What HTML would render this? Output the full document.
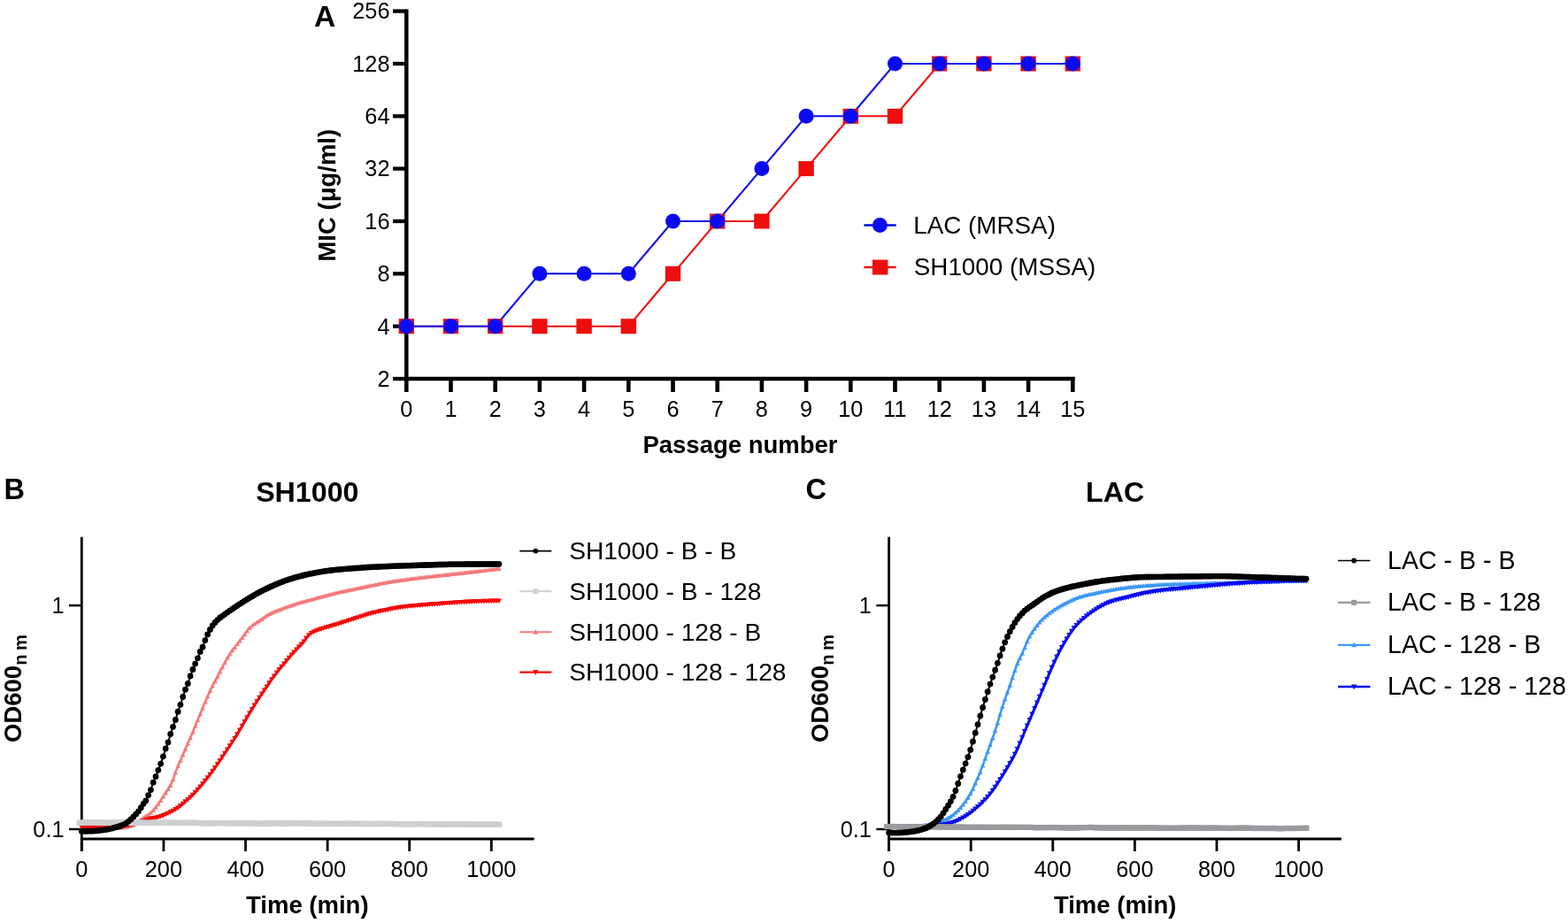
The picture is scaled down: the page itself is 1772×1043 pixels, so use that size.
<!DOCTYPE html>
<html lang="en"><head><meta charset="utf-8"><title>Figure</title>
<style>
html,body{margin:0;padding:0;background:#fff;width:1772px;height:1043px;overflow:hidden}
svg{display:block}
text{font-family:'Liberation Sans', Arial, Helvetica, sans-serif;fill:#000}
.tk{font-size:25.3px}
.lb{font-size:27.5px;font-weight:bold}
.lb .sub{font-size:20.2px}
.pl{font-size:32.2px;font-weight:bold}
.lg{font-size:27.5px}
</style></head><body>
<svg width="1772" height="1043" viewBox="0 0 1772 1043">
<rect width="1772" height="1043" fill="#fff"/>
<g>
<path d="M459.3 10.5 V428 H1214.8" fill="none" stroke="#000" stroke-width="4.5" stroke-linejoin="miter"/>
<line x1="444" y1="428" x2="459.3" y2="428" stroke="#000" stroke-width="4.3"/>
<text x="440.5" y="436.8" text-anchor="end" class="tk">2</text>
<line x1="444" y1="368.7" x2="459.3" y2="368.7" stroke="#000" stroke-width="4.3"/>
<text x="440.5" y="377.5" text-anchor="end" class="tk">4</text>
<line x1="444" y1="309.3" x2="459.3" y2="309.3" stroke="#000" stroke-width="4.3"/>
<text x="440.5" y="318.1" text-anchor="end" class="tk">8</text>
<line x1="444" y1="250" x2="459.3" y2="250" stroke="#000" stroke-width="4.3"/>
<text x="440.5" y="258.8" text-anchor="end" class="tk">16</text>
<line x1="444" y1="190.6" x2="459.3" y2="190.6" stroke="#000" stroke-width="4.3"/>
<text x="440.5" y="199.4" text-anchor="end" class="tk">32</text>
<line x1="444" y1="131.3" x2="459.3" y2="131.3" stroke="#000" stroke-width="4.3"/>
<text x="440.5" y="140.1" text-anchor="end" class="tk">64</text>
<line x1="444" y1="72" x2="459.3" y2="72" stroke="#000" stroke-width="4.3"/>
<text x="440.5" y="80.8" text-anchor="end" class="tk">128</text>
<line x1="444" y1="12.6" x2="459.3" y2="12.6" stroke="#000" stroke-width="4.3"/>
<text x="440.5" y="21.4" text-anchor="end" class="tk">256</text>
<line x1="459.3" y1="428" x2="459.3" y2="443" stroke="#000" stroke-width="4.6"/>
<text x="459.3" y="470.6" text-anchor="middle" class="tk">0</text>
<line x1="509.5" y1="428" x2="509.5" y2="443" stroke="#000" stroke-width="4.6"/>
<text x="509.5" y="470.6" text-anchor="middle" class="tk">1</text>
<line x1="559.7" y1="428" x2="559.7" y2="443" stroke="#000" stroke-width="4.6"/>
<text x="559.7" y="470.6" text-anchor="middle" class="tk">2</text>
<line x1="609.9" y1="428" x2="609.9" y2="443" stroke="#000" stroke-width="4.6"/>
<text x="609.9" y="470.6" text-anchor="middle" class="tk">3</text>
<line x1="660.1" y1="428" x2="660.1" y2="443" stroke="#000" stroke-width="4.6"/>
<text x="660.1" y="470.6" text-anchor="middle" class="tk">4</text>
<line x1="710.3" y1="428" x2="710.3" y2="443" stroke="#000" stroke-width="4.6"/>
<text x="710.3" y="470.6" text-anchor="middle" class="tk">5</text>
<line x1="760.5" y1="428" x2="760.5" y2="443" stroke="#000" stroke-width="4.6"/>
<text x="760.5" y="470.6" text-anchor="middle" class="tk">6</text>
<line x1="810.7" y1="428" x2="810.7" y2="443" stroke="#000" stroke-width="4.6"/>
<text x="810.7" y="470.6" text-anchor="middle" class="tk">7</text>
<line x1="860.9" y1="428" x2="860.9" y2="443" stroke="#000" stroke-width="4.6"/>
<text x="860.9" y="470.6" text-anchor="middle" class="tk">8</text>
<line x1="911.1" y1="428" x2="911.1" y2="443" stroke="#000" stroke-width="4.6"/>
<text x="911.1" y="470.6" text-anchor="middle" class="tk">9</text>
<line x1="961.3" y1="428" x2="961.3" y2="443" stroke="#000" stroke-width="4.6"/>
<text x="961.3" y="470.6" text-anchor="middle" class="tk">10</text>
<line x1="1011.5" y1="428" x2="1011.5" y2="443" stroke="#000" stroke-width="4.6"/>
<text x="1011.5" y="470.6" text-anchor="middle" class="tk">11</text>
<line x1="1061.7" y1="428" x2="1061.7" y2="443" stroke="#000" stroke-width="4.6"/>
<text x="1061.7" y="470.6" text-anchor="middle" class="tk">12</text>
<line x1="1111.9" y1="428" x2="1111.9" y2="443" stroke="#000" stroke-width="4.6"/>
<text x="1111.9" y="470.6" text-anchor="middle" class="tk">13</text>
<line x1="1162.1" y1="428" x2="1162.1" y2="443" stroke="#000" stroke-width="4.6"/>
<text x="1162.1" y="470.6" text-anchor="middle" class="tk">14</text>
<line x1="1212.3" y1="428" x2="1212.3" y2="443" stroke="#000" stroke-width="4.6"/>
<text x="1212.3" y="470.6" text-anchor="middle" class="tk">15</text>
<text x="836.5" y="512.3" text-anchor="middle" class="lb">Passage number</text>
<text transform="translate(379.4 220.7) rotate(-90)" text-anchor="middle" class="lb">MIC (&#956;g/ml)</text>
<text x="355" y="30.2" class="pl" style="font-size:33.5px">A</text>
<polyline points="459.3,368.7 509.5,368.7 559.7,368.7 609.9,368.7 660.1,368.7 710.3,368.7 760.5,309.3 810.7,250 860.9,250 911.1,190.6 961.3,131.3 1011.5,131.3 1061.7,72 1111.9,72 1162.1,72 1212.3,72" fill="none" stroke="#f00d0d" stroke-width="2.1"/>
<polyline points="459.3,368.7 509.5,368.7 559.7,368.7 609.9,309.3 660.1,309.3 710.3,309.3 760.5,250 810.7,250 860.9,190.6 911.1,131.3 961.3,131.3 1011.5,72 1061.7,72 1111.9,72 1162.1,72 1212.3,72" fill="none" stroke="#0a0af2" stroke-width="2.1"/>
<rect x="450.6" y="360.2" width="17.4" height="17" fill="#f00d0d"/>
<rect x="500.8" y="360.2" width="17.4" height="17" fill="#f00d0d"/>
<rect x="551" y="360.2" width="17.4" height="17" fill="#f00d0d"/>
<rect x="601.2" y="360.2" width="17.4" height="17" fill="#f00d0d"/>
<rect x="651.4" y="360.2" width="17.4" height="17" fill="#f00d0d"/>
<rect x="701.6" y="360.2" width="17.4" height="17" fill="#f00d0d"/>
<rect x="751.8" y="300.8" width="17.4" height="17" fill="#f00d0d"/>
<rect x="802" y="241.5" width="17.4" height="17" fill="#f00d0d"/>
<rect x="852.2" y="241.5" width="17.4" height="17" fill="#f00d0d"/>
<rect x="902.4" y="182.1" width="17.4" height="17" fill="#f00d0d"/>
<rect x="952.6" y="122.8" width="17.4" height="17" fill="#f00d0d"/>
<rect x="1002.8" y="122.8" width="17.4" height="17" fill="#f00d0d"/>
<rect x="1053" y="63.5" width="17.4" height="17" fill="#f00d0d"/>
<rect x="1103.2" y="63.5" width="17.4" height="17" fill="#f00d0d"/>
<rect x="1153.4" y="63.5" width="17.4" height="17" fill="#f00d0d"/>
<rect x="1203.6" y="63.5" width="17.4" height="17" fill="#f00d0d"/>
<circle cx="459.3" cy="368.7" r="8.5" fill="#0a0af2"/>
<circle cx="509.5" cy="368.7" r="8.5" fill="#0a0af2"/>
<circle cx="559.7" cy="368.7" r="8.5" fill="#0a0af2"/>
<circle cx="609.9" cy="309.3" r="8.5" fill="#0a0af2"/>
<circle cx="660.1" cy="309.3" r="8.5" fill="#0a0af2"/>
<circle cx="710.3" cy="309.3" r="8.5" fill="#0a0af2"/>
<circle cx="760.5" cy="250" r="8.5" fill="#0a0af2"/>
<circle cx="810.7" cy="250" r="8.5" fill="#0a0af2"/>
<circle cx="860.9" cy="190.6" r="8.5" fill="#0a0af2"/>
<circle cx="911.1" cy="131.3" r="8.5" fill="#0a0af2"/>
<circle cx="961.3" cy="131.3" r="8.5" fill="#0a0af2"/>
<circle cx="1011.5" cy="72" r="8.5" fill="#0a0af2"/>
<circle cx="1061.7" cy="72" r="8.5" fill="#0a0af2"/>
<circle cx="1111.9" cy="72" r="8.5" fill="#0a0af2"/>
<circle cx="1162.1" cy="72" r="8.5" fill="#0a0af2"/>
<circle cx="1212.3" cy="72" r="8.5" fill="#0a0af2"/>
<line x1="976.4" y1="254.5" x2="1012.7" y2="254.5" stroke="#0a0af2" stroke-width="2.4"/>
<circle cx="994.4" cy="254.5" r="8.5" fill="#0a0af2"/>
<text x="1032.3" y="264" class="lg" style="font-size:27.8px">LAC (MRSA)</text>
<line x1="976.4" y1="302" x2="1012.7" y2="302" stroke="#f00d0d" stroke-width="2.4"/>
<rect x="985.9" y="293.5" width="17.5" height="17" fill="#f00d0d"/>
<text x="1032.8" y="311.2" class="lg" style="font-size:27.8px">SH1000 (MSSA)</text>
</g>
<g>
<path d="M92.3 606.8 V962" fill="none" stroke="#000" stroke-width="2.8"/>
<line x1="90.9" y1="948" x2="603.6" y2="948" stroke="#000" stroke-width="2.8"/>
<line x1="78" y1="684.2" x2="92.3" y2="684.2" stroke="#000" stroke-width="2.5"/>
<text x="72.5" y="692.8" text-anchor="end" class="tk">1</text>
<line x1="78" y1="937" x2="92.3" y2="937" stroke="#000" stroke-width="2.5"/>
<text x="72.5" y="945.6" text-anchor="end" class="tk">0.1</text>
<line x1="92.3" y1="948" x2="92.3" y2="962" stroke="#000" stroke-width="2.8"/>
<text x="92.3" y="990.5" text-anchor="middle" class="tk">0</text>
<line x1="184.9" y1="948" x2="184.9" y2="962" stroke="#000" stroke-width="2.8"/>
<text x="184.9" y="990.5" text-anchor="middle" class="tk">200</text>
<line x1="277.5" y1="948" x2="277.5" y2="962" stroke="#000" stroke-width="2.8"/>
<text x="277.5" y="990.5" text-anchor="middle" class="tk">400</text>
<line x1="370.1" y1="948" x2="370.1" y2="962" stroke="#000" stroke-width="2.8"/>
<text x="370.1" y="990.5" text-anchor="middle" class="tk">600</text>
<line x1="462.7" y1="948" x2="462.7" y2="962" stroke="#000" stroke-width="2.8"/>
<text x="462.7" y="990.5" text-anchor="middle" class="tk">800</text>
<line x1="555.3" y1="948" x2="555.3" y2="962" stroke="#000" stroke-width="2.8"/>
<text x="555.3" y="990.5" text-anchor="middle" class="tk">1000</text>
<text x="347.3" y="1032" text-anchor="middle" class="lb">Time (min)</text>
<text x="347.3" y="567" text-anchor="middle" class="pl">SH1000</text>
<text x="4.5" y="563.8" class="pl" style="font-size:32.5px">B</text>
<text transform="translate(23.6 839.0) rotate(-90)" class="lb">OD600<tspan class="sub" dy="6.0">n</tspan><tspan class="sub" dx="4.5">m</tspan></text>
<polyline points="92.3,935.6 95.1,935.7 97.9,935.7 100.7,935.8 103.5,935.9 106.3,935.9 109,936 111.8,936 114.6,936 117.4,936 120.2,936 123,936 125.8,935.9 128.6,935.8 131.4,935.6 134.2,935.5 136.9,935.2 139.7,934.9 142.5,934.5 145.3,933.9 148.1,933 150.9,931.9 153.7,930.6 156.5,928.7 159.3,926.5 162.1,924.3 164.8,922.4 167.6,920.6 170.4,918.6 173.2,915.8 176,912.2 178.8,908.5 181.6,904.6 184.4,900 187.2,895.9 190,891.8 192.7,887.5 195.5,881.1 198.3,872.7 201.1,865.8 203.9,859.5 206.7,853.1 209.5,846.5 212.3,840.1 215.1,833.8 217.9,827.3 220.6,820.6 223.4,813.8 226.2,807.1 229,800.2 231.8,793.5 234.6,787 237.4,780.7 240.2,775.1 243,769.9 245.8,764.5 248.5,759.1 251.3,753.9 254.1,748.9 256.9,743.6 259.7,739 262.5,735.1 265.3,731.5 268.1,727.8 270.9,724.3 273.7,720.7 276.4,717 279.2,713 282,709.6 284.8,707.1 287.6,705 290.4,703.2 293.2,701.4 296,699.6 298.8,697.6 301.6,695.6 304.3,694 307.1,692.6 309.9,691.4 312.7,690.2 315.5,689.2 318.3,688.1 321.1,687.1 323.9,686.1 326.7,685.1 329.5,684.1 332.2,683.2 335,682.3 337.8,681.4 340.6,680.5 343.4,679.7 346.2,679 349,678.2 351.8,677.5 354.6,676.8 357.4,676 360.1,675.3 362.9,674.5 365.7,673.8 368.5,673 371.3,672.3 374.1,671.5 376.9,670.8 379.7,670.1 382.5,669.5 385.3,668.8 388,668.3 390.8,667.7 393.6,667.1 396.4,666.5 399.2,666 402,665.4 404.8,664.8 407.6,664.2 410.4,663.6 413.2,663 415.9,662.4 418.7,661.9 421.5,661.3 424.3,660.7 427.1,660.1 429.9,659.6 432.7,659 435.5,658.5 438.3,658 441.1,657.5 443.8,657 446.6,656.6 449.4,656.2 452.2,655.8 455,655.4 457.8,655.1 460.6,654.7 463.4,654.3 466.2,653.9 469,653.6 471.7,653.2 474.5,652.9 477.3,652.5 480.1,652.2 482.9,651.9 485.7,651.5 488.5,651.2 491.3,650.9 494.1,650.6 496.9,650.3 499.6,650 502.4,649.7 505.2,649.4 508,649.1 510.8,648.8 513.6,648.5 516.4,648.2 519.2,647.9 522,647.6 524.8,647.2 527.5,646.9 530.3,646.6 533.1,646.3 535.9,646 538.7,645.7 541.5,645.3 544.3,645 547.1,644.7 549.9,644.3 552.7,644 555.4,643.6 558.2,643.3 561,643 563.8,642.8" fill="none" stroke="#f47a7a" stroke-width="2.6" stroke-linejoin="round"/>
<g fill="#f47a7a">
<path d="M92.3 932.8L95.1 937.8H89.5z"/>
<path d="M95.1 932.9L97.9 937.9H92.3z"/>
<path d="M97.9 932.9L100.7 938H95.1z"/>
<path d="M100.7 933L103.5 938.1H97.9z"/>
<path d="M103.5 933.1L106.3 938.1H100.7z"/>
<path d="M106.3 933.1L109.1 938.2H103.5z"/>
<path d="M109 933.2L111.8 938.2H106.2z"/>
<path d="M111.8 933.2L114.6 938.2H109z"/>
<path d="M114.6 933.2L117.4 938.2H111.8z"/>
<path d="M117.4 933.2L120.2 938.2H114.6z"/>
<path d="M120.2 933.2L123 938.2H117.4z"/>
<path d="M123 933.2L125.8 938.2H120.2z"/>
<path d="M125.8 933.1L128.6 938.1H123z"/>
<path d="M128.6 933L131.4 938H125.8z"/>
<path d="M131.4 932.8L134.2 937.9H128.6z"/>
<path d="M134.2 932.7L137 937.7H131.4z"/>
<path d="M136.9 932.4L139.7 937.5H134.1z"/>
<path d="M139.7 932.1L142.5 937.2H136.9z"/>
<path d="M142.5 931.7L145.3 936.7H139.7z"/>
<path d="M145.3 931.1L148.1 936.1H142.5z"/>
<path d="M148.1 930.2L150.9 935.2H145.3z"/>
<path d="M150.9 929.1L153.7 934.2H148.1z"/>
<path d="M153.7 927.8L156.5 932.8H150.9z"/>
<path d="M156.5 925.9L159.3 931H153.7z"/>
<path d="M159.3 923.7L162.1 928.8H156.5z"/>
<path d="M162.1 921.5L164.9 926.5H159.3z"/>
<path d="M164.8 919.6L167.6 924.6H162z"/>
<path d="M167.6 917.8L170.4 922.9H164.8z"/>
<path d="M170.4 915.8L173.2 920.8H167.6z"/>
<path d="M173.2 913L176 918H170.4z"/>
<path d="M176 909.4L178.8 914.4H173.2z"/>
<path d="M178.8 905.7L181.6 910.8H176z"/>
<path d="M181.6 901.8L184.4 906.9H178.8z"/>
<path d="M184.4 897.2L187.2 902.3H181.6z"/>
<path d="M187.2 893.1L190 898.2H184.4z"/>
<path d="M190 889L192.8 894.1H187.2z"/>
<path d="M192.7 884.7L195.5 889.8H189.9z"/>
<path d="M195.5 878.3L198.3 883.3H192.7z"/>
<path d="M198.3 869.9L201.1 875H195.5z"/>
<path d="M201.1 863L203.9 868H198.3z"/>
<path d="M203.9 856.7L206.7 861.8H201.1z"/>
<path d="M206.7 850.3L209.5 855.3H203.9z"/>
<path d="M209.5 843.7L212.3 848.8H206.7z"/>
<path d="M212.3 837.3L215.1 842.4H209.5z"/>
<path d="M215.1 831L217.9 836.1H212.3z"/>
<path d="M217.9 824.5L220.7 829.6H215.1z"/>
<path d="M220.6 817.8L223.4 822.8H217.8z"/>
<path d="M223.4 811L226.2 816H220.6z"/>
<path d="M226.2 804.3L229 809.3H223.4z"/>
<path d="M229 797.4L231.8 802.5H226.2z"/>
<path d="M231.8 790.7L234.6 795.7H229z"/>
<path d="M234.6 784.2L237.4 789.2H231.8z"/>
<path d="M237.4 777.9L240.2 782.9H234.6z"/>
<path d="M240.2 772.3L243 777.4H237.4z"/>
<path d="M243 767.1L245.8 772.1H240.2z"/>
<path d="M245.8 761.7L248.6 766.7H243z"/>
<path d="M248.5 756.3L251.3 761.4H245.7z"/>
<path d="M251.3 751.1L254.1 756.2H248.5z"/>
<path d="M254.1 746.1L256.9 751.1H251.3z"/>
<path d="M256.9 740.8L259.7 745.8H254.1z"/>
<path d="M259.7 736.2L262.5 741.2H256.9z"/>
<path d="M262.5 732.3L265.3 737.3H259.7z"/>
<path d="M265.3 728.7L268.1 733.7H262.5z"/>
<path d="M268.1 725L270.9 730.1H265.3z"/>
<path d="M270.9 721.5L273.7 726.5H268.1z"/>
<path d="M273.7 717.9L276.5 723H270.9z"/>
<path d="M276.4 714.2L279.2 719.2H273.6z"/>
<path d="M279.2 710.2L282 715.2H276.4z"/>
<path d="M282 706.8L284.8 711.9H279.2z"/>
<path d="M284.8 704.3L287.6 709.4H282z"/>
<path d="M287.6 702.2L290.4 707.3H284.8z"/>
<path d="M290.4 700.4L293.2 705.4H287.6z"/>
<path d="M293.2 698.6L296 703.7H290.4z"/>
<path d="M296 696.8L298.8 701.9H293.2z"/>
<path d="M298.8 694.8L301.6 699.8H296z"/>
<path d="M301.6 692.8L304.4 697.8H298.8z"/>
<path d="M304.3 691.2L307.1 696.2H301.5z"/>
<path d="M307.1 689.8L309.9 694.8H304.3z"/>
<path d="M309.9 688.6L312.7 693.6H307.1z"/>
<path d="M312.7 687.4L315.5 692.5H309.9z"/>
<path d="M315.5 686.4L318.3 691.4H312.7z"/>
<path d="M318.3 685.3L321.1 690.4H315.5z"/>
<path d="M321.1 684.3L323.9 689.3H318.3z"/>
<path d="M323.9 683.3L326.7 688.3H321.1z"/>
<path d="M326.7 682.3L329.5 687.3H323.9z"/>
<path d="M329.5 681.3L332.3 686.4H326.7z"/>
<path d="M332.2 680.4L335 685.4H329.4z"/>
<path d="M335 679.5L337.8 684.5H332.2z"/>
<path d="M337.8 678.6L340.6 683.6H335z"/>
<path d="M340.6 677.7L343.4 682.8H337.8z"/>
<path d="M343.4 676.9L346.2 682H340.6z"/>
<path d="M346.2 676.2L349 681.2H343.4z"/>
<path d="M349 675.4L351.8 680.5H346.2z"/>
<path d="M351.8 674.7L354.6 679.7H349z"/>
<path d="M354.6 674L357.4 679H351.8z"/>
<path d="M357.4 673.2L360.2 678.3H354.6z"/>
<path d="M360.1 672.5L362.9 677.5H357.3z"/>
<path d="M362.9 671.7L365.7 676.8H360.1z"/>
<path d="M365.7 671L368.5 676H362.9z"/>
<path d="M368.5 670.2L371.3 675.2H365.7z"/>
<path d="M371.3 669.5L374.1 674.5H368.5z"/>
<path d="M374.1 668.7L376.9 673.8H371.3z"/>
<path d="M376.9 668L379.7 673H374.1z"/>
<path d="M379.7 667.3L382.5 672.3H376.9z"/>
<path d="M382.5 666.7L385.3 671.7H379.7z"/>
<path d="M385.3 666L388.1 671.1H382.5z"/>
<path d="M388 665.5L390.8 670.5H385.2z"/>
<path d="M390.8 664.9L393.6 669.9H388z"/>
<path d="M393.6 664.3L396.4 669.3H390.8z"/>
<path d="M396.4 663.7L399.2 668.8H393.6z"/>
<path d="M399.2 663.2L402 668.2H396.4z"/>
<path d="M402 662.6L404.8 667.6H399.2z"/>
<path d="M404.8 662L407.6 667H402z"/>
<path d="M407.6 661.4L410.4 666.5H404.8z"/>
<path d="M410.4 660.8L413.2 665.9H407.6z"/>
<path d="M413.2 660.2L416 665.3H410.4z"/>
<path d="M415.9 659.6L418.7 664.7H413.1z"/>
<path d="M418.7 659.1L421.5 664.1H415.9z"/>
<path d="M421.5 658.5L424.3 663.5H418.7z"/>
<path d="M424.3 657.9L427.1 663H421.5z"/>
<path d="M427.1 657.3L429.9 662.4H424.3z"/>
<path d="M429.9 656.8L432.7 661.8H427.1z"/>
<path d="M432.7 656.2L435.5 661.3H429.9z"/>
<path d="M435.5 655.7L438.3 660.7H432.7z"/>
<path d="M438.3 655.2L441.1 660.2H435.5z"/>
<path d="M441.1 654.7L443.9 659.7H438.3z"/>
<path d="M443.8 654.2L446.6 659.3H441z"/>
<path d="M446.6 653.8L449.4 658.9H443.8z"/>
<path d="M449.4 653.4L452.2 658.4H446.6z"/>
<path d="M452.2 653L455 658.1H449.4z"/>
<path d="M455 652.6L457.8 657.7H452.2z"/>
<path d="M457.8 652.3L460.6 657.3H455z"/>
<path d="M460.6 651.9L463.4 656.9H457.8z"/>
<path d="M463.4 651.5L466.2 656.6H460.6z"/>
<path d="M466.2 651.1L469 656.2H463.4z"/>
<path d="M469 650.8L471.8 655.8H466.2z"/>
<path d="M471.7 650.4L474.5 655.5H468.9z"/>
<path d="M474.5 650.1L477.3 655.1H471.7z"/>
<path d="M477.3 649.7L480.1 654.8H474.5z"/>
<path d="M480.1 649.4L482.9 654.4H477.3z"/>
<path d="M482.9 649.1L485.7 654.1H480.1z"/>
<path d="M485.7 648.7L488.5 653.8H482.9z"/>
<path d="M488.5 648.4L491.3 653.5H485.7z"/>
<path d="M491.3 648.1L494.1 653.2H488.5z"/>
<path d="M494.1 647.8L496.9 652.9H491.3z"/>
<path d="M496.9 647.5L499.7 652.6H494.1z"/>
<path d="M499.6 647.2L502.4 652.3H496.8z"/>
<path d="M502.4 646.9L505.2 652H499.6z"/>
<path d="M505.2 646.6L508 651.7H502.4z"/>
<path d="M508 646.3L510.8 651.4H505.2z"/>
<path d="M510.8 646L513.6 651H508z"/>
<path d="M513.6 645.7L516.4 650.7H510.8z"/>
<path d="M516.4 645.4L519.2 650.4H513.6z"/>
<path d="M519.2 645.1L522 650.1H516.4z"/>
<path d="M522 644.8L524.8 649.8H519.2z"/>
<path d="M524.8 644.4L527.6 649.5H522z"/>
<path d="M527.5 644.1L530.3 649.2H524.7z"/>
<path d="M530.3 643.8L533.1 648.9H527.5z"/>
<path d="M533.1 643.5L535.9 648.5H530.3z"/>
<path d="M535.9 643.2L538.7 648.2H533.1z"/>
<path d="M538.7 642.9L541.5 647.9H535.9z"/>
<path d="M541.5 642.5L544.3 647.6H538.7z"/>
<path d="M544.3 642.2L547.1 647.2H541.5z"/>
<path d="M547.1 641.9L549.9 646.9H544.3z"/>
<path d="M549.9 641.5L552.7 646.6H547.1z"/>
<path d="M552.7 641.2L555.5 646.2H549.9z"/>
<path d="M555.4 640.8L558.2 645.9H552.6z"/>
<path d="M558.2 640.5L561 645.5H555.4z"/>
<path d="M561 640.2L563.8 645.2H558.2z"/>
<path d="M563.8 640L566.6 645H561z"/>
</g>
<polyline points="92.3,934.7 95.1,934.7 97.9,934.7 100.7,934.7 103.5,934.7 106.3,934.8 109,934.8 111.8,934.8 114.6,934.9 117.4,935.1 120.2,935.2 123,935.2 125.8,935 128.6,934.8 131.4,934.5 134.2,934.1 136.9,933.8 139.7,933.4 142.5,932.9 145.3,932.4 148.1,931.9 150.9,931.3 153.7,930.5 156.5,929.7 159.3,928.7 162.1,927.8 164.8,926.7 167.6,925.7 170.4,925 173.2,924.5 176,924.1 178.8,923.5 181.6,922.6 184.4,921.5 187.2,920.2 190,918.9 192.7,917.6 195.5,916.2 198.3,914.6 201.1,912.8 203.9,910.6 206.7,908.2 209.5,905.8 212.3,903.4 215.1,900.8 217.9,898.2 220.6,895.3 223.4,892.2 226.2,889 229,885.7 231.8,882.3 234.6,878.8 237.4,875.1 240.2,871.4 243,867.5 245.8,863.5 248.5,859.4 251.3,855.3 254.1,851.2 256.9,847 259.7,842.8 262.5,838.5 265.3,834.2 268.1,829.8 270.9,825 273.7,820.2 276.4,815.4 279.2,810.6 282,806 284.8,801.5 287.6,797 290.4,792.5 293.2,788.2 296,784 298.8,779.9 301.6,775.9 304.3,771.8 307.1,767.7 309.9,763.9 312.7,760.2 315.5,756.6 318.3,753.2 321.1,750 323.9,746.6 326.7,743.2 329.5,739.9 332.2,736.9 335,733.9 337.8,731 340.6,728.1 343.4,725 346.2,721.1 349,717.6 351.8,715.4 354.6,713.9 357.4,712.7 360.1,711.7 362.9,710.8 365.7,709.9 368.5,709 371.3,708.2 374.1,707.4 376.9,706.6 379.7,705.8 382.5,704.9 385.3,704 388,703.1 390.8,702.2 393.6,701.3 396.4,700.4 399.2,699.5 402,698.5 404.8,697.6 407.6,696.7 410.4,695.9 413.2,695 415.9,694.1 418.7,693.3 421.5,692.5 424.3,691.8 427.1,691.2 429.9,690.6 432.7,690 435.5,689.5 438.3,688.9 441.1,688.3 443.8,687.7 446.6,687.2 449.4,686.7 452.2,686.3 455,685.9 457.8,685.6 460.6,685.2 463.4,685 466.2,684.7 469,684.5 471.7,684.2 474.5,684 477.3,683.7 480.1,683.5 482.9,683.3 485.7,683 488.5,682.8 491.3,682.6 494.1,682.4 496.9,682.2 499.6,682 502.4,681.7 505.2,681.5 508,681.3 510.8,681.2 513.6,681 516.4,680.8 519.2,680.6 522,680.5 524.8,680.3 527.5,680.1 530.3,680 533.1,679.8 535.9,679.7 538.7,679.6 541.5,679.5 544.3,679.4 547.1,679.3 549.9,679.2 552.7,679.2 555.4,679.1 558.2,679.1 561,679 563.8,679" fill="none" stroke="#f20a0a" stroke-width="3" stroke-linejoin="round"/>
<g fill="#f20a0a">
<path d="M92.3 937.8L95.4 932.2H89.2z"/>
<path d="M95.1 937.8L98.2 932.2H92z"/>
<path d="M97.9 937.8L101 932.2H94.8z"/>
<path d="M100.7 937.8L103.8 932.2H97.6z"/>
<path d="M103.5 937.8L106.6 932.3H100.4z"/>
<path d="M106.3 937.9L109.4 932.3H103.2z"/>
<path d="M109 937.9L112.1 932.3H105.9z"/>
<path d="M111.8 937.9L114.9 932.4H108.7z"/>
<path d="M114.6 938L117.7 932.5H111.5z"/>
<path d="M117.4 938.2L120.5 932.6H114.3z"/>
<path d="M120.2 938.3L123.3 932.7H117.1z"/>
<path d="M123 938.3L126.1 932.7H119.9z"/>
<path d="M125.8 938.1L128.9 932.6H122.7z"/>
<path d="M128.6 937.9L131.7 932.3H125.5z"/>
<path d="M131.4 937.6L134.5 932H128.3z"/>
<path d="M134.2 937.2L137.3 931.6H131.1z"/>
<path d="M136.9 936.9L140 931.3H133.8z"/>
<path d="M139.7 936.5L142.8 930.9H136.6z"/>
<path d="M142.5 936L145.6 930.5H139.4z"/>
<path d="M145.3 935.5L148.4 930H142.2z"/>
<path d="M148.1 935L151.2 929.4H145z"/>
<path d="M150.9 934.4L154 928.8H147.8z"/>
<path d="M153.7 933.6L156.8 928.1H150.6z"/>
<path d="M156.5 932.8L159.6 927.2H153.4z"/>
<path d="M159.3 931.8L162.4 926.3H156.2z"/>
<path d="M162.1 930.9L165.2 925.3H159z"/>
<path d="M164.8 929.8L167.9 924.2H161.7z"/>
<path d="M167.6 928.8L170.7 923.2H164.5z"/>
<path d="M170.4 928.1L173.5 922.5H167.3z"/>
<path d="M173.2 927.6L176.3 922.1H170.1z"/>
<path d="M176 927.2L179.1 921.6H172.9z"/>
<path d="M178.8 926.6L181.9 921H175.7z"/>
<path d="M181.6 925.7L184.7 920.1H178.5z"/>
<path d="M184.4 924.6L187.5 919H181.3z"/>
<path d="M187.2 923.3L190.3 917.7H184.1z"/>
<path d="M190 922L193.1 916.5H186.9z"/>
<path d="M192.7 920.7L195.8 915.1H189.6z"/>
<path d="M195.5 919.3L198.6 913.7H192.4z"/>
<path d="M198.3 917.7L201.4 912.1H195.2z"/>
<path d="M201.1 915.9L204.2 910.3H198z"/>
<path d="M203.9 913.7L207 908.1H200.8z"/>
<path d="M206.7 911.3L209.8 905.7H203.6z"/>
<path d="M209.5 908.9L212.6 903.3H206.4z"/>
<path d="M212.3 906.5L215.4 900.9H209.2z"/>
<path d="M215.1 903.9L218.2 898.4H212z"/>
<path d="M217.9 901.3L221 895.7H214.8z"/>
<path d="M220.6 898.4L223.7 892.8H217.5z"/>
<path d="M223.4 895.3L226.5 889.7H220.3z"/>
<path d="M226.2 892.1L229.3 886.5H223.1z"/>
<path d="M229 888.8L232.1 883.3H225.9z"/>
<path d="M231.8 885.4L234.9 879.8H228.7z"/>
<path d="M234.6 881.9L237.7 876.3H231.5z"/>
<path d="M237.4 878.2L240.5 872.7H234.3z"/>
<path d="M240.2 874.5L243.3 868.9H237.1z"/>
<path d="M243 870.6L246.1 865H239.9z"/>
<path d="M245.8 866.6L248.9 861H242.7z"/>
<path d="M248.5 862.5L251.6 856.9H245.4z"/>
<path d="M251.3 858.4L254.4 852.8H248.2z"/>
<path d="M254.1 854.3L257.2 848.7H251z"/>
<path d="M256.9 850.1L260 844.5H253.8z"/>
<path d="M259.7 845.9L262.8 840.3H256.6z"/>
<path d="M262.5 841.6L265.6 836.1H259.4z"/>
<path d="M265.3 837.3L268.4 831.7H262.2z"/>
<path d="M268.1 832.9L271.2 827.3H265z"/>
<path d="M270.9 828.1L274 822.6H267.8z"/>
<path d="M273.7 823.3L276.8 817.7H270.6z"/>
<path d="M276.4 818.5L279.5 812.9H273.3z"/>
<path d="M279.2 813.7L282.3 808.2H276.1z"/>
<path d="M282 809.1L285.1 803.5H278.9z"/>
<path d="M284.8 804.6L287.9 799H281.7z"/>
<path d="M287.6 800.1L290.7 794.5H284.5z"/>
<path d="M290.4 795.6L293.5 790.1H287.3z"/>
<path d="M293.2 791.3L296.3 785.7H290.1z"/>
<path d="M296 787.1L299.1 781.5H292.9z"/>
<path d="M298.8 783L301.9 777.4H295.7z"/>
<path d="M301.6 779L304.7 773.4H298.5z"/>
<path d="M304.3 774.9L307.4 769.3H301.2z"/>
<path d="M307.1 770.8L310.2 765.3H304z"/>
<path d="M309.9 767L313 761.4H306.8z"/>
<path d="M312.7 763.3L315.8 757.7H309.6z"/>
<path d="M315.5 759.7L318.6 754.1H312.4z"/>
<path d="M318.3 756.3L321.4 750.8H315.2z"/>
<path d="M321.1 753.1L324.2 747.5H318z"/>
<path d="M323.9 749.7L327 744.1H320.8z"/>
<path d="M326.7 746.3L329.8 740.8H323.6z"/>
<path d="M329.5 743L332.6 737.5H326.4z"/>
<path d="M332.2 740L335.3 734.4H329.1z"/>
<path d="M335 737L338.1 731.4H331.9z"/>
<path d="M337.8 734.1L340.9 728.5H334.7z"/>
<path d="M340.6 731.2L343.7 725.6H337.5z"/>
<path d="M343.4 728.1L346.5 722.5H340.3z"/>
<path d="M346.2 724.2L349.3 718.6H343.1z"/>
<path d="M349 720.7L352.1 715.2H345.9z"/>
<path d="M351.8 718.5L354.9 712.9H348.7z"/>
<path d="M354.6 717L357.7 711.4H351.5z"/>
<path d="M357.4 715.8L360.5 710.2H354.3z"/>
<path d="M360.1 714.8L363.2 709.2H357z"/>
<path d="M362.9 713.9L366 708.3H359.8z"/>
<path d="M365.7 713L368.8 707.5H362.6z"/>
<path d="M368.5 712.1L371.6 706.6H365.4z"/>
<path d="M371.3 711.3L374.4 705.7H368.2z"/>
<path d="M374.1 710.5L377.2 704.9H371z"/>
<path d="M376.9 709.7L380 704.1H373.8z"/>
<path d="M379.7 708.9L382.8 703.3H376.6z"/>
<path d="M382.5 708L385.6 702.4H379.4z"/>
<path d="M385.3 707.1L388.4 701.5H382.2z"/>
<path d="M388 706.2L391.1 700.6H384.9z"/>
<path d="M390.8 705.3L393.9 699.7H387.7z"/>
<path d="M393.6 704.4L396.7 698.8H390.5z"/>
<path d="M396.4 703.5L399.5 697.9H393.3z"/>
<path d="M399.2 702.6L402.3 697H396.1z"/>
<path d="M402 701.6L405.1 696.1H398.9z"/>
<path d="M404.8 700.7L407.9 695.2H401.7z"/>
<path d="M407.6 699.8L410.7 694.3H404.5z"/>
<path d="M410.4 699L413.5 693.4H407.3z"/>
<path d="M413.2 698.1L416.3 692.5H410.1z"/>
<path d="M415.9 697.2L419 691.6H412.8z"/>
<path d="M418.7 696.4L421.8 690.8H415.6z"/>
<path d="M421.5 695.6L424.6 690H418.4z"/>
<path d="M424.3 694.9L427.4 689.4H421.2z"/>
<path d="M427.1 694.3L430.2 688.7H424z"/>
<path d="M429.9 693.7L433 688.1H426.8z"/>
<path d="M432.7 693.1L435.8 687.6H429.6z"/>
<path d="M435.5 692.6L438.6 687H432.4z"/>
<path d="M438.3 692L441.4 686.4H435.2z"/>
<path d="M441.1 691.4L444.2 685.8H438z"/>
<path d="M443.8 690.8L446.9 685.2H440.7z"/>
<path d="M446.6 690.3L449.7 684.7H443.5z"/>
<path d="M449.4 689.8L452.5 684.2H446.3z"/>
<path d="M452.2 689.4L455.3 683.8H449.1z"/>
<path d="M455 689L458.1 683.4H451.9z"/>
<path d="M457.8 688.7L460.9 683.1H454.7z"/>
<path d="M460.6 688.3L463.7 682.8H457.5z"/>
<path d="M463.4 688.1L466.5 682.5H460.3z"/>
<path d="M466.2 687.8L469.3 682.2H463.1z"/>
<path d="M469 687.6L472.1 682H465.9z"/>
<path d="M471.7 687.3L474.8 681.7H468.6z"/>
<path d="M474.5 687.1L477.6 681.5H471.4z"/>
<path d="M477.3 686.8L480.4 681.3H474.2z"/>
<path d="M480.1 686.6L483.2 681H477z"/>
<path d="M482.9 686.4L486 680.8H479.8z"/>
<path d="M485.7 686.1L488.8 680.6H482.6z"/>
<path d="M488.5 685.9L491.6 680.3H485.4z"/>
<path d="M491.3 685.7L494.4 680.1H488.2z"/>
<path d="M494.1 685.5L497.2 679.9H491z"/>
<path d="M496.9 685.3L500 679.7H493.8z"/>
<path d="M499.6 685.1L502.7 679.5H496.5z"/>
<path d="M502.4 684.8L505.5 679.3H499.3z"/>
<path d="M505.2 684.6L508.3 679.1H502.1z"/>
<path d="M508 684.4L511.1 678.9H504.9z"/>
<path d="M510.8 684.3L513.9 678.7H507.7z"/>
<path d="M513.6 684.1L516.7 678.5H510.5z"/>
<path d="M516.4 683.9L519.5 678.3H513.3z"/>
<path d="M519.2 683.7L522.3 678.1H516.1z"/>
<path d="M522 683.6L525.1 678H518.9z"/>
<path d="M524.8 683.4L527.9 677.8H521.7z"/>
<path d="M527.5 683.2L530.6 677.6H524.4z"/>
<path d="M530.3 683.1L533.4 677.5H527.2z"/>
<path d="M533.1 682.9L536.2 677.3H530z"/>
<path d="M535.9 682.8L539 677.2H532.8z"/>
<path d="M538.7 682.7L541.8 677.1H535.6z"/>
<path d="M541.5 682.6L544.6 677H538.4z"/>
<path d="M544.3 682.5L547.4 676.9H541.2z"/>
<path d="M547.1 682.4L550.2 676.8H544z"/>
<path d="M549.9 682.3L553 676.8H546.8z"/>
<path d="M552.7 682.3L555.8 676.7H549.6z"/>
<path d="M555.4 682.2L558.5 676.6H552.3z"/>
<path d="M558.2 682.2L561.3 676.6H555.1z"/>
<path d="M561 682.1L564.1 676.5H557.9z"/>
<path d="M563.8 682.1L566.9 676.5H560.7z"/>
</g>
<polyline points="89.8,929.8 92.6,929.7 95.4,929.6 98.2,929.5 101,929.4 103.8,929.4 106.5,929.4 109.3,929.4 112.1,929.5 114.9,929.6 117.7,929.7 120.5,929.7 123.3,929.7 126.1,929.7 128.9,929.7 131.7,929.7 134.4,929.7 137.2,929.5 140,929.5 142.8,929.6 145.6,929.7 148.4,929.7 151.2,929.6 154,929.7 156.8,929.8 159.6,929.8 162.3,929.7 165.1,929.8 167.9,929.9 170.7,929.9 173.5,929.9 176.3,929.8 179.1,929.8 181.9,929.7 184.7,929.7 187.5,929.6 190.2,929.7 193,929.7 195.8,929.8 198.6,929.9 201.4,929.8 204.2,929.9 207,929.8 209.8,929.8 212.6,929.9 215.4,929.7 218.1,929.8 220.9,929.9 223.7,930 226.5,930.1 229.3,930.2 232.1,930.3 234.9,930.4 237.7,930.4 240.5,930.3 243.3,930.2 246,930.1 248.8,930.1 251.6,930.1 254.4,930.2 257.2,930.2 260,930.3 262.8,930.3 265.6,930.5 268.4,930.4 271.2,930.3 273.9,930.5 276.7,930.3 279.5,930.4 282.3,930.4 285.1,930.5 287.9,930.6 290.7,930.6 293.5,930.6 296.3,930.6 299.1,930.5 301.8,930.6 304.6,930.5 307.4,930.5 310.2,930.5 313,930.4 315.8,930.4 318.6,930.6 321.4,930.5 324.2,930.6 327,930.4 329.7,930.3 332.5,930.4 335.3,930.3 338.1,930.3 340.9,930.3 343.7,930.3 346.5,930.5 349.3,930.6 352.1,930.6 354.9,930.6 357.6,930.8 360.4,930.8 363.2,930.8 366,930.8 368.8,930.8 371.6,930.9 374.4,930.9 377.2,930.8 380,930.7 382.8,930.9 385.5,930.9 388.3,930.8 391.1,930.8 393.9,930.8 396.7,930.8 399.5,930.9 402.3,930.9 405.1,930.9 407.9,931 410.7,930.9 413.4,931 416.2,931 419,931.1 421.8,931 424.6,930.9 427.4,930.9 430.2,931 433,930.9 435.8,931 438.6,930.9 441.3,930.9 444.1,931 446.9,931.1 449.7,931.2 452.5,931.2 455.3,931.2 458.1,931.2 460.9,931.2 463.7,931.3 466.5,931.2 469.2,931.1 472,931.1 474.8,931 477.6,931.1 480.4,931.2 483.2,931.1 486,931.2 488.8,931.3 491.6,931.4 494.4,931.4 497.1,931.4 499.9,931.4 502.7,931.5 505.5,931.4 508.3,931.4 511.1,931.4 513.9,931.4 516.7,931.3 519.5,931.4 522.3,931.3 525,931.5 527.8,931.4 530.6,931.4 533.4,931.4 536.2,931.4 539,931.5 541.8,931.6 544.6,931.5 547.4,931.6 550.2,931.5 552.9,931.6 555.7,931.7 558.5,931.6 561.3,931.7 564.1,931.8" fill="none" stroke="#cfcfcf" stroke-width="5.6" stroke-linejoin="round"/>
<g fill="#cfcfcf">
<rect x="86.6" y="926.6" width="6.4" height="6.4"/>
<rect x="89.4" y="926.5" width="6.4" height="6.4"/>
<rect x="92.2" y="926.4" width="6.4" height="6.4"/>
<rect x="95" y="926.3" width="6.4" height="6.4"/>
<rect x="97.8" y="926.2" width="6.4" height="6.4"/>
<rect x="100.6" y="926.2" width="6.4" height="6.4"/>
<rect x="103.3" y="926.2" width="6.4" height="6.4"/>
<rect x="106.1" y="926.2" width="6.4" height="6.4"/>
<rect x="108.9" y="926.3" width="6.4" height="6.4"/>
<rect x="111.7" y="926.4" width="6.4" height="6.4"/>
<rect x="114.5" y="926.5" width="6.4" height="6.4"/>
<rect x="117.3" y="926.5" width="6.4" height="6.4"/>
<rect x="120.1" y="926.5" width="6.4" height="6.4"/>
<rect x="122.9" y="926.5" width="6.4" height="6.4"/>
<rect x="125.7" y="926.5" width="6.4" height="6.4"/>
<rect x="128.5" y="926.5" width="6.4" height="6.4"/>
<rect x="131.2" y="926.5" width="6.4" height="6.4"/>
<rect x="134" y="926.3" width="6.4" height="6.4"/>
<rect x="136.8" y="926.3" width="6.4" height="6.4"/>
<rect x="139.6" y="926.4" width="6.4" height="6.4"/>
<rect x="142.4" y="926.5" width="6.4" height="6.4"/>
<rect x="145.2" y="926.5" width="6.4" height="6.4"/>
<rect x="148" y="926.4" width="6.4" height="6.4"/>
<rect x="150.8" y="926.5" width="6.4" height="6.4"/>
<rect x="153.6" y="926.6" width="6.4" height="6.4"/>
<rect x="156.4" y="926.6" width="6.4" height="6.4"/>
<rect x="159.1" y="926.5" width="6.4" height="6.4"/>
<rect x="161.9" y="926.6" width="6.4" height="6.4"/>
<rect x="164.7" y="926.7" width="6.4" height="6.4"/>
<rect x="167.5" y="926.7" width="6.4" height="6.4"/>
<rect x="170.3" y="926.7" width="6.4" height="6.4"/>
<rect x="173.1" y="926.6" width="6.4" height="6.4"/>
<rect x="175.9" y="926.6" width="6.4" height="6.4"/>
<rect x="178.7" y="926.5" width="6.4" height="6.4"/>
<rect x="181.5" y="926.5" width="6.4" height="6.4"/>
<rect x="184.3" y="926.4" width="6.4" height="6.4"/>
<rect x="187" y="926.5" width="6.4" height="6.4"/>
<rect x="189.8" y="926.5" width="6.4" height="6.4"/>
<rect x="192.6" y="926.6" width="6.4" height="6.4"/>
<rect x="195.4" y="926.7" width="6.4" height="6.4"/>
<rect x="198.2" y="926.6" width="6.4" height="6.4"/>
<rect x="201" y="926.7" width="6.4" height="6.4"/>
<rect x="203.8" y="926.6" width="6.4" height="6.4"/>
<rect x="206.6" y="926.6" width="6.4" height="6.4"/>
<rect x="209.4" y="926.7" width="6.4" height="6.4"/>
<rect x="212.2" y="926.5" width="6.4" height="6.4"/>
<rect x="214.9" y="926.6" width="6.4" height="6.4"/>
<rect x="217.7" y="926.7" width="6.4" height="6.4"/>
<rect x="220.5" y="926.8" width="6.4" height="6.4"/>
<rect x="223.3" y="926.9" width="6.4" height="6.4"/>
<rect x="226.1" y="927" width="6.4" height="6.4"/>
<rect x="228.9" y="927.1" width="6.4" height="6.4"/>
<rect x="231.7" y="927.2" width="6.4" height="6.4"/>
<rect x="234.5" y="927.2" width="6.4" height="6.4"/>
<rect x="237.3" y="927.1" width="6.4" height="6.4"/>
<rect x="240.1" y="927" width="6.4" height="6.4"/>
<rect x="242.8" y="926.9" width="6.4" height="6.4"/>
<rect x="245.6" y="926.9" width="6.4" height="6.4"/>
<rect x="248.4" y="926.9" width="6.4" height="6.4"/>
<rect x="251.2" y="927" width="6.4" height="6.4"/>
<rect x="254" y="927" width="6.4" height="6.4"/>
<rect x="256.8" y="927.1" width="6.4" height="6.4"/>
<rect x="259.6" y="927.1" width="6.4" height="6.4"/>
<rect x="262.4" y="927.3" width="6.4" height="6.4"/>
<rect x="265.2" y="927.2" width="6.4" height="6.4"/>
<rect x="268" y="927.1" width="6.4" height="6.4"/>
<rect x="270.7" y="927.3" width="6.4" height="6.4"/>
<rect x="273.5" y="927.1" width="6.4" height="6.4"/>
<rect x="276.3" y="927.2" width="6.4" height="6.4"/>
<rect x="279.1" y="927.2" width="6.4" height="6.4"/>
<rect x="281.9" y="927.3" width="6.4" height="6.4"/>
<rect x="284.7" y="927.4" width="6.4" height="6.4"/>
<rect x="287.5" y="927.4" width="6.4" height="6.4"/>
<rect x="290.3" y="927.4" width="6.4" height="6.4"/>
<rect x="293.1" y="927.4" width="6.4" height="6.4"/>
<rect x="295.9" y="927.3" width="6.4" height="6.4"/>
<rect x="298.6" y="927.4" width="6.4" height="6.4"/>
<rect x="301.4" y="927.3" width="6.4" height="6.4"/>
<rect x="304.2" y="927.3" width="6.4" height="6.4"/>
<rect x="307" y="927.3" width="6.4" height="6.4"/>
<rect x="309.8" y="927.2" width="6.4" height="6.4"/>
<rect x="312.6" y="927.2" width="6.4" height="6.4"/>
<rect x="315.4" y="927.4" width="6.4" height="6.4"/>
<rect x="318.2" y="927.3" width="6.4" height="6.4"/>
<rect x="321" y="927.4" width="6.4" height="6.4"/>
<rect x="323.8" y="927.2" width="6.4" height="6.4"/>
<rect x="326.5" y="927.1" width="6.4" height="6.4"/>
<rect x="329.3" y="927.2" width="6.4" height="6.4"/>
<rect x="332.1" y="927.1" width="6.4" height="6.4"/>
<rect x="334.9" y="927.1" width="6.4" height="6.4"/>
<rect x="337.7" y="927.1" width="6.4" height="6.4"/>
<rect x="340.5" y="927.1" width="6.4" height="6.4"/>
<rect x="343.3" y="927.3" width="6.4" height="6.4"/>
<rect x="346.1" y="927.4" width="6.4" height="6.4"/>
<rect x="348.9" y="927.4" width="6.4" height="6.4"/>
<rect x="351.7" y="927.4" width="6.4" height="6.4"/>
<rect x="354.4" y="927.6" width="6.4" height="6.4"/>
<rect x="357.2" y="927.6" width="6.4" height="6.4"/>
<rect x="360" y="927.6" width="6.4" height="6.4"/>
<rect x="362.8" y="927.6" width="6.4" height="6.4"/>
<rect x="365.6" y="927.6" width="6.4" height="6.4"/>
<rect x="368.4" y="927.7" width="6.4" height="6.4"/>
<rect x="371.2" y="927.7" width="6.4" height="6.4"/>
<rect x="374" y="927.6" width="6.4" height="6.4"/>
<rect x="376.8" y="927.5" width="6.4" height="6.4"/>
<rect x="379.6" y="927.7" width="6.4" height="6.4"/>
<rect x="382.3" y="927.7" width="6.4" height="6.4"/>
<rect x="385.1" y="927.6" width="6.4" height="6.4"/>
<rect x="387.9" y="927.6" width="6.4" height="6.4"/>
<rect x="390.7" y="927.6" width="6.4" height="6.4"/>
<rect x="393.5" y="927.6" width="6.4" height="6.4"/>
<rect x="396.3" y="927.7" width="6.4" height="6.4"/>
<rect x="399.1" y="927.7" width="6.4" height="6.4"/>
<rect x="401.9" y="927.7" width="6.4" height="6.4"/>
<rect x="404.7" y="927.8" width="6.4" height="6.4"/>
<rect x="407.5" y="927.7" width="6.4" height="6.4"/>
<rect x="410.2" y="927.8" width="6.4" height="6.4"/>
<rect x="413" y="927.8" width="6.4" height="6.4"/>
<rect x="415.8" y="927.9" width="6.4" height="6.4"/>
<rect x="418.6" y="927.8" width="6.4" height="6.4"/>
<rect x="421.4" y="927.7" width="6.4" height="6.4"/>
<rect x="424.2" y="927.7" width="6.4" height="6.4"/>
<rect x="427" y="927.8" width="6.4" height="6.4"/>
<rect x="429.8" y="927.7" width="6.4" height="6.4"/>
<rect x="432.6" y="927.8" width="6.4" height="6.4"/>
<rect x="435.4" y="927.7" width="6.4" height="6.4"/>
<rect x="438.1" y="927.7" width="6.4" height="6.4"/>
<rect x="440.9" y="927.8" width="6.4" height="6.4"/>
<rect x="443.7" y="927.9" width="6.4" height="6.4"/>
<rect x="446.5" y="928" width="6.4" height="6.4"/>
<rect x="449.3" y="928" width="6.4" height="6.4"/>
<rect x="452.1" y="928" width="6.4" height="6.4"/>
<rect x="454.9" y="928" width="6.4" height="6.4"/>
<rect x="457.7" y="928" width="6.4" height="6.4"/>
<rect x="460.5" y="928.1" width="6.4" height="6.4"/>
<rect x="463.3" y="928" width="6.4" height="6.4"/>
<rect x="466" y="927.9" width="6.4" height="6.4"/>
<rect x="468.8" y="927.9" width="6.4" height="6.4"/>
<rect x="471.6" y="927.8" width="6.4" height="6.4"/>
<rect x="474.4" y="927.9" width="6.4" height="6.4"/>
<rect x="477.2" y="928" width="6.4" height="6.4"/>
<rect x="480" y="927.9" width="6.4" height="6.4"/>
<rect x="482.8" y="928" width="6.4" height="6.4"/>
<rect x="485.6" y="928.1" width="6.4" height="6.4"/>
<rect x="488.4" y="928.2" width="6.4" height="6.4"/>
<rect x="491.2" y="928.2" width="6.4" height="6.4"/>
<rect x="493.9" y="928.2" width="6.4" height="6.4"/>
<rect x="496.7" y="928.2" width="6.4" height="6.4"/>
<rect x="499.5" y="928.3" width="6.4" height="6.4"/>
<rect x="502.3" y="928.2" width="6.4" height="6.4"/>
<rect x="505.1" y="928.2" width="6.4" height="6.4"/>
<rect x="507.9" y="928.2" width="6.4" height="6.4"/>
<rect x="510.7" y="928.2" width="6.4" height="6.4"/>
<rect x="513.5" y="928.1" width="6.4" height="6.4"/>
<rect x="516.3" y="928.2" width="6.4" height="6.4"/>
<rect x="519.1" y="928.1" width="6.4" height="6.4"/>
<rect x="521.8" y="928.3" width="6.4" height="6.4"/>
<rect x="524.6" y="928.2" width="6.4" height="6.4"/>
<rect x="527.4" y="928.2" width="6.4" height="6.4"/>
<rect x="530.2" y="928.2" width="6.4" height="6.4"/>
<rect x="533" y="928.2" width="6.4" height="6.4"/>
<rect x="535.8" y="928.3" width="6.4" height="6.4"/>
<rect x="538.6" y="928.4" width="6.4" height="6.4"/>
<rect x="541.4" y="928.3" width="6.4" height="6.4"/>
<rect x="544.2" y="928.4" width="6.4" height="6.4"/>
<rect x="547" y="928.3" width="6.4" height="6.4"/>
<rect x="549.7" y="928.4" width="6.4" height="6.4"/>
<rect x="552.5" y="928.5" width="6.4" height="6.4"/>
<rect x="555.3" y="928.4" width="6.4" height="6.4"/>
<rect x="558.1" y="928.5" width="6.4" height="6.4"/>
<rect x="560.9" y="928.6" width="6.4" height="6.4"/>
</g>
<polyline points="92.3,939.3 95.1,939.3 97.9,939.3 100.7,939.2 103.5,939.2 106.3,939 109,938.8 111.8,938.5 114.6,938.2 117.4,937.8 120.2,937.4 123,936.8 125.8,936.2 128.6,935.4 131.4,934.7 134.2,933.9 136.9,933 139.7,931.8 142.5,930.3 145.3,928.1 148.1,925.7 150.9,922.9 153.7,919.9 156.5,916.8 159.3,912.7 162.1,908.3 164.8,904.8 167.6,898.6 170.4,892.6 173.2,884.2 176,877.4 178.8,870.3 181.6,863.1 184.4,854.8 187.2,845.9 190,838.8 192.7,829.5 195.5,821.3 198.3,813.4 201.1,804.2 203.9,796.3 206.7,787.5 209.5,779.2 212.3,772.5 215.1,763.9 217.9,756.5 220.6,750.1 223.4,743.8 226.2,736.5 229,731.2 231.8,723.6 234.6,716.9 237.4,711.5 240.2,706.9 243,703.4 245.8,700.6 248.5,698.2 251.3,696.1 254.1,694.1 256.9,692.1 259.7,690.1 262.5,688.2 265.3,686.3 268.1,684.5 270.9,682.6 273.7,680.8 276.4,679.1 279.2,677.3 282,675.6 284.8,674 287.6,672.3 290.4,670.7 293.2,669.2 296,667.7 298.8,666.3 301.6,665 304.3,663.7 307.1,662.4 309.9,661.2 312.7,660 315.5,658.8 318.3,657.7 321.1,656.6 323.9,655.7 326.7,654.7 329.5,653.8 332.2,653 335,652.2 337.8,651.4 340.6,650.7 343.4,650 346.2,649.4 349,648.7 351.8,648.2 354.6,647.6 357.4,647.1 360.1,646.6 362.9,646.1 365.7,645.6 368.5,645.2 371.3,644.8 374.1,644.5 376.9,644.1 379.7,643.8 382.5,643.6 385.3,643.3 388,643.1 390.8,642.8 393.6,642.6 396.4,642.4 399.2,642.2 402,642 404.8,641.8 407.6,641.6 410.4,641.4 413.2,641.2 415.9,641 418.7,640.9 421.5,640.7 424.3,640.6 427.1,640.5 429.9,640.3 432.7,640.2 435.5,640.1 438.3,640 441.1,639.8 443.8,639.7 446.6,639.6 449.4,639.5 452.2,639.4 455,639.3 457.8,639.2 460.6,639.2 463.4,639.1 466.2,639 469,638.9 471.7,638.8 474.5,638.7 477.3,638.6 480.1,638.5 482.9,638.5 485.7,638.4 488.5,638.3 491.3,638.2 494.1,638.1 496.9,638 499.6,637.9 502.4,637.9 505.2,637.8 508,637.7 510.8,637.7 513.6,637.7 516.4,637.6 519.2,637.6 522,637.6 524.8,637.6 527.5,637.5 530.3,637.5 533.1,637.5 535.9,637.5 538.7,637.5 541.5,637.5 544.3,637.4 547.1,637.4 549.9,637.4 552.7,637.4 555.4,637.4 558.2,637.4 561,637.4 563.8,637.4" fill="none" stroke="#000" stroke-width="2" stroke-linejoin="round"/>
<g fill="#000">
<circle cx="92.3" cy="939.3" r="3.4"/>
<circle cx="95.1" cy="939.3" r="3.4"/>
<circle cx="97.9" cy="939.3" r="3.4"/>
<circle cx="100.7" cy="939.2" r="3.4"/>
<circle cx="103.5" cy="939.2" r="3.4"/>
<circle cx="106.3" cy="939" r="3.4"/>
<circle cx="109" cy="938.8" r="3.4"/>
<circle cx="111.8" cy="938.5" r="3.4"/>
<circle cx="114.6" cy="938.2" r="3.4"/>
<circle cx="117.4" cy="937.8" r="3.4"/>
<circle cx="120.2" cy="937.4" r="3.4"/>
<circle cx="123" cy="936.8" r="3.4"/>
<circle cx="125.8" cy="936.2" r="3.4"/>
<circle cx="128.6" cy="935.4" r="3.4"/>
<circle cx="131.4" cy="934.7" r="3.4"/>
<circle cx="134.2" cy="933.9" r="3.4"/>
<circle cx="136.9" cy="933" r="3.4"/>
<circle cx="139.7" cy="931.8" r="3.4"/>
<circle cx="142.5" cy="930.3" r="3.4"/>
<circle cx="145.3" cy="928.1" r="3.4"/>
<circle cx="148.1" cy="925.7" r="3.4"/>
<circle cx="150.9" cy="922.9" r="3.4"/>
<circle cx="153.7" cy="919.9" r="3.4"/>
<circle cx="156.5" cy="916.8" r="3.4"/>
<circle cx="159.3" cy="912.7" r="3.4"/>
<circle cx="162.1" cy="908.3" r="3.4"/>
<circle cx="164.8" cy="904.8" r="3.4"/>
<circle cx="167.6" cy="898.6" r="3.4"/>
<circle cx="170.4" cy="892.6" r="3.4"/>
<circle cx="173.2" cy="884.2" r="3.4"/>
<circle cx="176" cy="877.4" r="3.4"/>
<circle cx="178.8" cy="870.3" r="3.4"/>
<circle cx="181.6" cy="863.1" r="3.4"/>
<circle cx="184.4" cy="854.8" r="3.4"/>
<circle cx="187.2" cy="845.9" r="3.4"/>
<circle cx="190" cy="838.8" r="3.4"/>
<circle cx="192.7" cy="829.5" r="3.4"/>
<circle cx="195.5" cy="821.3" r="3.4"/>
<circle cx="198.3" cy="813.4" r="3.4"/>
<circle cx="201.1" cy="804.2" r="3.4"/>
<circle cx="203.9" cy="796.3" r="3.4"/>
<circle cx="206.7" cy="787.5" r="3.4"/>
<circle cx="209.5" cy="779.2" r="3.4"/>
<circle cx="212.3" cy="772.5" r="3.4"/>
<circle cx="215.1" cy="763.9" r="3.4"/>
<circle cx="217.9" cy="756.5" r="3.4"/>
<circle cx="220.6" cy="750.1" r="3.4"/>
<circle cx="223.4" cy="743.8" r="3.4"/>
<circle cx="226.2" cy="736.5" r="3.4"/>
<circle cx="229" cy="731.2" r="3.4"/>
<circle cx="231.8" cy="723.6" r="3.4"/>
<circle cx="234.6" cy="716.9" r="3.4"/>
<circle cx="237.4" cy="711.5" r="3.4"/>
<circle cx="240.2" cy="706.9" r="3.4"/>
<circle cx="243" cy="703.4" r="3.4"/>
<circle cx="245.8" cy="700.6" r="3.4"/>
<circle cx="248.5" cy="698.2" r="3.4"/>
<circle cx="251.3" cy="696.1" r="3.4"/>
<circle cx="254.1" cy="694.1" r="3.4"/>
<circle cx="256.9" cy="692.1" r="3.4"/>
<circle cx="259.7" cy="690.1" r="3.4"/>
<circle cx="262.5" cy="688.2" r="3.4"/>
<circle cx="265.3" cy="686.3" r="3.4"/>
<circle cx="268.1" cy="684.5" r="3.4"/>
<circle cx="270.9" cy="682.6" r="3.4"/>
<circle cx="273.7" cy="680.8" r="3.4"/>
<circle cx="276.4" cy="679.1" r="3.4"/>
<circle cx="279.2" cy="677.3" r="3.4"/>
<circle cx="282" cy="675.6" r="3.4"/>
<circle cx="284.8" cy="674" r="3.4"/>
<circle cx="287.6" cy="672.3" r="3.4"/>
<circle cx="290.4" cy="670.7" r="3.4"/>
<circle cx="293.2" cy="669.2" r="3.4"/>
<circle cx="296" cy="667.7" r="3.4"/>
<circle cx="298.8" cy="666.3" r="3.4"/>
<circle cx="301.6" cy="665" r="3.4"/>
<circle cx="304.3" cy="663.7" r="3.4"/>
<circle cx="307.1" cy="662.4" r="3.4"/>
<circle cx="309.9" cy="661.2" r="3.4"/>
<circle cx="312.7" cy="660" r="3.4"/>
<circle cx="315.5" cy="658.8" r="3.4"/>
<circle cx="318.3" cy="657.7" r="3.4"/>
<circle cx="321.1" cy="656.6" r="3.4"/>
<circle cx="323.9" cy="655.7" r="3.4"/>
<circle cx="326.7" cy="654.7" r="3.4"/>
<circle cx="329.5" cy="653.8" r="3.4"/>
<circle cx="332.2" cy="653" r="3.4"/>
<circle cx="335" cy="652.2" r="3.4"/>
<circle cx="337.8" cy="651.4" r="3.4"/>
<circle cx="340.6" cy="650.7" r="3.4"/>
<circle cx="343.4" cy="650" r="3.4"/>
<circle cx="346.2" cy="649.4" r="3.4"/>
<circle cx="349" cy="648.7" r="3.4"/>
<circle cx="351.8" cy="648.2" r="3.4"/>
<circle cx="354.6" cy="647.6" r="3.4"/>
<circle cx="357.4" cy="647.1" r="3.4"/>
<circle cx="360.1" cy="646.6" r="3.4"/>
<circle cx="362.9" cy="646.1" r="3.4"/>
<circle cx="365.7" cy="645.6" r="3.4"/>
<circle cx="368.5" cy="645.2" r="3.4"/>
<circle cx="371.3" cy="644.8" r="3.4"/>
<circle cx="374.1" cy="644.5" r="3.4"/>
<circle cx="376.9" cy="644.1" r="3.4"/>
<circle cx="379.7" cy="643.8" r="3.4"/>
<circle cx="382.5" cy="643.6" r="3.4"/>
<circle cx="385.3" cy="643.3" r="3.4"/>
<circle cx="388" cy="643.1" r="3.4"/>
<circle cx="390.8" cy="642.8" r="3.4"/>
<circle cx="393.6" cy="642.6" r="3.4"/>
<circle cx="396.4" cy="642.4" r="3.4"/>
<circle cx="399.2" cy="642.2" r="3.4"/>
<circle cx="402" cy="642" r="3.4"/>
<circle cx="404.8" cy="641.8" r="3.4"/>
<circle cx="407.6" cy="641.6" r="3.4"/>
<circle cx="410.4" cy="641.4" r="3.4"/>
<circle cx="413.2" cy="641.2" r="3.4"/>
<circle cx="415.9" cy="641" r="3.4"/>
<circle cx="418.7" cy="640.9" r="3.4"/>
<circle cx="421.5" cy="640.7" r="3.4"/>
<circle cx="424.3" cy="640.6" r="3.4"/>
<circle cx="427.1" cy="640.5" r="3.4"/>
<circle cx="429.9" cy="640.3" r="3.4"/>
<circle cx="432.7" cy="640.2" r="3.4"/>
<circle cx="435.5" cy="640.1" r="3.4"/>
<circle cx="438.3" cy="640" r="3.4"/>
<circle cx="441.1" cy="639.8" r="3.4"/>
<circle cx="443.8" cy="639.7" r="3.4"/>
<circle cx="446.6" cy="639.6" r="3.4"/>
<circle cx="449.4" cy="639.5" r="3.4"/>
<circle cx="452.2" cy="639.4" r="3.4"/>
<circle cx="455" cy="639.3" r="3.4"/>
<circle cx="457.8" cy="639.2" r="3.4"/>
<circle cx="460.6" cy="639.2" r="3.4"/>
<circle cx="463.4" cy="639.1" r="3.4"/>
<circle cx="466.2" cy="639" r="3.4"/>
<circle cx="469" cy="638.9" r="3.4"/>
<circle cx="471.7" cy="638.8" r="3.4"/>
<circle cx="474.5" cy="638.7" r="3.4"/>
<circle cx="477.3" cy="638.6" r="3.4"/>
<circle cx="480.1" cy="638.5" r="3.4"/>
<circle cx="482.9" cy="638.5" r="3.4"/>
<circle cx="485.7" cy="638.4" r="3.4"/>
<circle cx="488.5" cy="638.3" r="3.4"/>
<circle cx="491.3" cy="638.2" r="3.4"/>
<circle cx="494.1" cy="638.1" r="3.4"/>
<circle cx="496.9" cy="638" r="3.4"/>
<circle cx="499.6" cy="637.9" r="3.4"/>
<circle cx="502.4" cy="637.9" r="3.4"/>
<circle cx="505.2" cy="637.8" r="3.4"/>
<circle cx="508" cy="637.7" r="3.4"/>
<circle cx="510.8" cy="637.7" r="3.4"/>
<circle cx="513.6" cy="637.7" r="3.4"/>
<circle cx="516.4" cy="637.6" r="3.4"/>
<circle cx="519.2" cy="637.6" r="3.4"/>
<circle cx="522" cy="637.6" r="3.4"/>
<circle cx="524.8" cy="637.6" r="3.4"/>
<circle cx="527.5" cy="637.5" r="3.4"/>
<circle cx="530.3" cy="637.5" r="3.4"/>
<circle cx="533.1" cy="637.5" r="3.4"/>
<circle cx="535.9" cy="637.5" r="3.4"/>
<circle cx="538.7" cy="637.5" r="3.4"/>
<circle cx="541.5" cy="637.5" r="3.4"/>
<circle cx="544.3" cy="637.4" r="3.4"/>
<circle cx="547.1" cy="637.4" r="3.4"/>
<circle cx="549.9" cy="637.4" r="3.4"/>
<circle cx="552.7" cy="637.4" r="3.4"/>
<circle cx="555.4" cy="637.4" r="3.4"/>
<circle cx="558.2" cy="637.4" r="3.4"/>
<circle cx="561" cy="637.4" r="3.4"/>
<circle cx="563.8" cy="637.4" r="3.4"/>
</g>
</g>
<g>
<path d="M1004.6 606.8 V962" fill="none" stroke="#000" stroke-width="2.8"/>
<line x1="1003.2" y1="948" x2="1515.9" y2="948" stroke="#000" stroke-width="2.8"/>
<line x1="990.3" y1="684.2" x2="1004.6" y2="684.2" stroke="#000" stroke-width="2.5"/>
<text x="984.8" y="692.8" text-anchor="end" class="tk">1</text>
<line x1="990.3" y1="937" x2="1004.6" y2="937" stroke="#000" stroke-width="2.5"/>
<text x="984.8" y="945.6" text-anchor="end" class="tk">0.1</text>
<line x1="1004.6" y1="948" x2="1004.6" y2="962" stroke="#000" stroke-width="2.8"/>
<text x="1004.6" y="990.5" text-anchor="middle" class="tk">0</text>
<line x1="1097.2" y1="948" x2="1097.2" y2="962" stroke="#000" stroke-width="2.8"/>
<text x="1097.2" y="990.5" text-anchor="middle" class="tk">200</text>
<line x1="1189.8" y1="948" x2="1189.8" y2="962" stroke="#000" stroke-width="2.8"/>
<text x="1189.8" y="990.5" text-anchor="middle" class="tk">400</text>
<line x1="1282.4" y1="948" x2="1282.4" y2="962" stroke="#000" stroke-width="2.8"/>
<text x="1282.4" y="990.5" text-anchor="middle" class="tk">600</text>
<line x1="1375" y1="948" x2="1375" y2="962" stroke="#000" stroke-width="2.8"/>
<text x="1375" y="990.5" text-anchor="middle" class="tk">800</text>
<line x1="1467.6" y1="948" x2="1467.6" y2="962" stroke="#000" stroke-width="2.8"/>
<text x="1467.6" y="990.5" text-anchor="middle" class="tk">1000</text>
<text x="1260.2" y="1032" text-anchor="middle" class="lb">Time (min)</text>
<text x="1260.2" y="567" text-anchor="middle" class="pl">LAC</text>
<text x="910.5" y="563.8" class="pl" style="font-size:32.5px">C</text>
<text transform="translate(935.9 839.0) rotate(-90)" class="lb">OD600<tspan class="sub" dy="6.0">n</tspan><tspan class="sub" dx="4.5">m</tspan></text>
<polyline points="1004.6,934.6 1007.4,934.6 1010.2,934.6 1013,934.6 1015.8,934.6 1018.5,934.6 1021.3,934.6 1024.1,934.6 1026.9,934.6 1029.7,934.6 1032.5,934.5 1035.3,934.5 1038.1,934.4 1040.9,934.2 1043.7,934 1046.4,933.8 1049.2,933.4 1052,932.8 1054.8,932 1057.6,930.8 1060.4,929.6 1063.2,928.4 1066,927.1 1068.8,925.9 1071.6,924.4 1074.3,922.7 1077.1,920.7 1079.9,918.4 1082.7,915.7 1085.5,912.7 1088.3,909.4 1091.1,905.6 1093.9,901.5 1096.7,896.9 1099.5,891.4 1102.2,885.3 1105,879 1107.8,872.4 1110.6,865.1 1113.4,857.2 1116.2,849.4 1119,841.8 1121.8,834 1124.6,825.9 1127.4,816.9 1130.1,807.4 1132.9,798.5 1135.7,790.3 1138.5,782.4 1141.3,774.5 1144.1,766.1 1146.9,757.6 1149.7,750 1152.5,743.8 1155.3,738.2 1158,732 1160.8,725 1163.6,719.1 1166.4,714.5 1169.2,710.4 1172,706.7 1174.8,703.2 1177.6,700.2 1180.4,697.6 1183.2,695.2 1185.9,693 1188.7,691 1191.5,689 1194.3,687.2 1197.1,685.6 1199.9,683.9 1202.7,682.4 1205.5,681 1208.3,679.6 1211.1,678.3 1213.8,677 1216.6,675.9 1219.4,674.9 1222.2,674 1225,673.3 1227.8,672.6 1230.6,671.9 1233.4,671.3 1236.2,670.7 1239,670.1 1241.7,669.5 1244.5,668.9 1247.3,668.3 1250.1,667.7 1252.9,667.2 1255.7,666.7 1258.5,666.2 1261.3,665.7 1264.1,665.3 1266.9,664.9 1269.6,664.5 1272.4,664.1 1275.2,663.7 1278,663.4 1280.8,663.1 1283.6,662.8 1286.4,662.6 1289.2,662.3 1292,662.1 1294.8,661.9 1297.5,661.6 1300.3,661.4 1303.1,661.2 1305.9,661 1308.7,660.9 1311.5,660.7 1314.3,660.6 1317.1,660.4 1319.9,660.3 1322.7,660.2 1325.4,660.1 1328.2,660 1331,660 1333.8,659.9 1336.6,659.8 1339.4,659.7 1342.2,659.7 1345,659.6 1347.8,659.5 1350.6,659.4 1353.3,659.4 1356.1,659.3 1358.9,659.2 1361.7,659.1 1364.5,659.1 1367.3,659 1370.1,658.9 1372.9,658.9 1375.7,658.8 1378.5,658.7 1381.2,658.6 1384,658.6 1386.8,658.5 1389.6,658.4 1392.4,658.3 1395.2,658.3 1398,658.2 1400.8,658.1 1403.6,658 1406.4,658 1409.1,657.9 1411.9,657.8 1414.7,657.7 1417.5,657.7 1420.3,657.6 1423.1,657.5 1425.9,657.4 1428.7,657.4 1431.5,657.3 1434.3,657.2 1437,657.1 1439.8,657.1 1442.6,657 1445.4,656.9 1448.2,656.9 1451,656.8 1453.8,656.7 1456.6,656.7 1459.4,656.6 1462.2,656.5 1464.9,656.4 1467.7,656.4 1470.5,656.3 1473.3,656.3 1476.1,656.2" fill="none" stroke="#3d98f5" stroke-width="2.6" stroke-linejoin="round"/>
<g fill="#3d98f5">
<path d="M1004.6 931.8L1007.4 936.8H1001.8z"/>
<path d="M1007.4 931.8L1010.2 936.8H1004.6z"/>
<path d="M1010.2 931.8L1013 936.8H1007.4z"/>
<path d="M1013 931.8L1015.8 936.8H1010.2z"/>
<path d="M1015.8 931.8L1018.6 936.8H1013z"/>
<path d="M1018.5 931.8L1021.3 936.8H1015.7z"/>
<path d="M1021.3 931.8L1024.1 936.8H1018.5z"/>
<path d="M1024.1 931.8L1026.9 936.8H1021.3z"/>
<path d="M1026.9 931.8L1029.7 936.8H1024.1z"/>
<path d="M1029.7 931.8L1032.5 936.8H1026.9z"/>
<path d="M1032.5 931.7L1035.3 936.8H1029.7z"/>
<path d="M1035.3 931.7L1038.1 936.7H1032.5z"/>
<path d="M1038.1 931.6L1040.9 936.6H1035.3z"/>
<path d="M1040.9 931.4L1043.7 936.5H1038.1z"/>
<path d="M1043.7 931.2L1046.5 936.3H1040.9z"/>
<path d="M1046.4 931L1049.2 936H1043.6z"/>
<path d="M1049.2 930.6L1052 935.6H1046.4z"/>
<path d="M1052 930L1054.8 935.1H1049.2z"/>
<path d="M1054.8 929.2L1057.6 934.2H1052z"/>
<path d="M1057.6 928L1060.4 933.1H1054.8z"/>
<path d="M1060.4 926.8L1063.2 931.8H1057.6z"/>
<path d="M1063.2 925.6L1066 930.6H1060.4z"/>
<path d="M1066 924.3L1068.8 929.4H1063.2z"/>
<path d="M1068.8 923.1L1071.6 928.1H1066z"/>
<path d="M1071.6 921.6L1074.4 926.7H1068.8z"/>
<path d="M1074.3 919.9L1077.1 925H1071.5z"/>
<path d="M1077.1 917.9L1079.9 922.9H1074.3z"/>
<path d="M1079.9 915.6L1082.7 920.6H1077.1z"/>
<path d="M1082.7 912.9L1085.5 917.9H1079.9z"/>
<path d="M1085.5 909.9L1088.3 915H1082.7z"/>
<path d="M1088.3 906.6L1091.1 911.6H1085.5z"/>
<path d="M1091.1 902.8L1093.9 907.8H1088.3z"/>
<path d="M1093.9 898.7L1096.7 903.7H1091.1z"/>
<path d="M1096.7 894.1L1099.5 899.1H1093.9z"/>
<path d="M1099.5 888.6L1102.3 893.7H1096.7z"/>
<path d="M1102.2 882.5L1105 887.6H1099.4z"/>
<path d="M1105 876.2L1107.8 881.2H1102.2z"/>
<path d="M1107.8 869.6L1110.6 874.7H1105z"/>
<path d="M1110.6 862.3L1113.4 867.3H1107.8z"/>
<path d="M1113.4 854.4L1116.2 859.5H1110.6z"/>
<path d="M1116.2 846.6L1119 851.7H1113.4z"/>
<path d="M1119 839L1121.8 844H1116.2z"/>
<path d="M1121.8 831.2L1124.6 836.2H1119z"/>
<path d="M1124.6 823.1L1127.4 828.1H1121.8z"/>
<path d="M1127.4 814.1L1130.2 819.2H1124.6z"/>
<path d="M1130.1 804.6L1132.9 809.7H1127.3z"/>
<path d="M1132.9 795.7L1135.7 800.7H1130.1z"/>
<path d="M1135.7 787.5L1138.5 792.6H1132.9z"/>
<path d="M1138.5 779.6L1141.3 784.6H1135.7z"/>
<path d="M1141.3 771.7L1144.1 776.7H1138.5z"/>
<path d="M1144.1 763.3L1146.9 768.3H1141.3z"/>
<path d="M1146.9 754.8L1149.7 759.9H1144.1z"/>
<path d="M1149.7 747.2L1152.5 752.2H1146.9z"/>
<path d="M1152.5 741L1155.3 746.1H1149.7z"/>
<path d="M1155.3 735.4L1158.1 740.4H1152.5z"/>
<path d="M1158 729.2L1160.8 734.2H1155.2z"/>
<path d="M1160.8 722.2L1163.6 727.2H1158z"/>
<path d="M1163.6 716.3L1166.4 721.3H1160.8z"/>
<path d="M1166.4 711.7L1169.2 716.7H1163.6z"/>
<path d="M1169.2 707.6L1172 712.7H1166.4z"/>
<path d="M1172 703.9L1174.8 708.9H1169.2z"/>
<path d="M1174.8 700.4L1177.6 705.5H1172z"/>
<path d="M1177.6 697.4L1180.4 702.5H1174.8z"/>
<path d="M1180.4 694.8L1183.2 699.8H1177.6z"/>
<path d="M1183.2 692.4L1186 697.4H1180.4z"/>
<path d="M1185.9 690.2L1188.7 695.2H1183.1z"/>
<path d="M1188.7 688.2L1191.5 693.2H1185.9z"/>
<path d="M1191.5 686.2L1194.3 691.3H1188.7z"/>
<path d="M1194.3 684.4L1197.1 689.5H1191.5z"/>
<path d="M1197.1 682.8L1199.9 687.8H1194.3z"/>
<path d="M1199.9 681.1L1202.7 686.2H1197.1z"/>
<path d="M1202.7 679.6L1205.5 684.7H1199.9z"/>
<path d="M1205.5 678.2L1208.3 683.2H1202.7z"/>
<path d="M1208.3 676.8L1211.1 681.8H1205.5z"/>
<path d="M1211.1 675.5L1213.9 680.5H1208.3z"/>
<path d="M1213.8 674.2L1216.6 679.2H1211z"/>
<path d="M1216.6 673.1L1219.4 678.1H1213.8z"/>
<path d="M1219.4 672.1L1222.2 677.1H1216.6z"/>
<path d="M1222.2 671.2L1225 676.3H1219.4z"/>
<path d="M1225 670.5L1227.8 675.5H1222.2z"/>
<path d="M1227.8 669.8L1230.6 674.8H1225z"/>
<path d="M1230.6 669.1L1233.4 674.1H1227.8z"/>
<path d="M1233.4 668.5L1236.2 673.5H1230.6z"/>
<path d="M1236.2 667.9L1239 672.9H1233.4z"/>
<path d="M1239 667.3L1241.8 672.3H1236.2z"/>
<path d="M1241.7 666.7L1244.5 671.7H1238.9z"/>
<path d="M1244.5 666.1L1247.3 671.1H1241.7z"/>
<path d="M1247.3 665.5L1250.1 670.5H1244.5z"/>
<path d="M1250.1 664.9L1252.9 670H1247.3z"/>
<path d="M1252.9 664.4L1255.7 669.4H1250.1z"/>
<path d="M1255.7 663.9L1258.5 668.9H1252.9z"/>
<path d="M1258.5 663.4L1261.3 668.4H1255.7z"/>
<path d="M1261.3 662.9L1264.1 668H1258.5z"/>
<path d="M1264.1 662.5L1266.9 667.6H1261.3z"/>
<path d="M1266.9 662.1L1269.7 667.1H1264.1z"/>
<path d="M1269.6 661.7L1272.4 666.7H1266.8z"/>
<path d="M1272.4 661.3L1275.2 666.3H1269.6z"/>
<path d="M1275.2 660.9L1278 666H1272.4z"/>
<path d="M1278 660.6L1280.8 665.7H1275.2z"/>
<path d="M1280.8 660.3L1283.6 665.4H1278z"/>
<path d="M1283.6 660L1286.4 665.1H1280.8z"/>
<path d="M1286.4 659.8L1289.2 664.8H1283.6z"/>
<path d="M1289.2 659.5L1292 664.6H1286.4z"/>
<path d="M1292 659.3L1294.8 664.3H1289.2z"/>
<path d="M1294.8 659.1L1297.6 664.1H1292z"/>
<path d="M1297.5 658.8L1300.3 663.9H1294.7z"/>
<path d="M1300.3 658.6L1303.1 663.7H1297.5z"/>
<path d="M1303.1 658.4L1305.9 663.5H1300.3z"/>
<path d="M1305.9 658.2L1308.7 663.3H1303.1z"/>
<path d="M1308.7 658.1L1311.5 663.1H1305.9z"/>
<path d="M1311.5 657.9L1314.3 663H1308.7z"/>
<path d="M1314.3 657.8L1317.1 662.8H1311.5z"/>
<path d="M1317.1 657.6L1319.9 662.7H1314.3z"/>
<path d="M1319.9 657.5L1322.7 662.6H1317.1z"/>
<path d="M1322.7 657.4L1325.5 662.5H1319.9z"/>
<path d="M1325.4 657.3L1328.2 662.4H1322.6z"/>
<path d="M1328.2 657.2L1331 662.3H1325.4z"/>
<path d="M1331 657.2L1333.8 662.2H1328.2z"/>
<path d="M1333.8 657.1L1336.6 662.1H1331z"/>
<path d="M1336.6 657L1339.4 662.1H1333.8z"/>
<path d="M1339.4 656.9L1342.2 662H1336.6z"/>
<path d="M1342.2 656.9L1345 661.9H1339.4z"/>
<path d="M1345 656.8L1347.8 661.8H1342.2z"/>
<path d="M1347.8 656.7L1350.6 661.8H1345z"/>
<path d="M1350.6 656.6L1353.4 661.7H1347.8z"/>
<path d="M1353.3 656.6L1356.1 661.6H1350.5z"/>
<path d="M1356.1 656.5L1358.9 661.5H1353.3z"/>
<path d="M1358.9 656.4L1361.7 661.5H1356.1z"/>
<path d="M1361.7 656.3L1364.5 661.4H1358.9z"/>
<path d="M1364.5 656.3L1367.3 661.3H1361.7z"/>
<path d="M1367.3 656.2L1370.1 661.2H1364.5z"/>
<path d="M1370.1 656.1L1372.9 661.2H1367.3z"/>
<path d="M1372.9 656.1L1375.7 661.1H1370.1z"/>
<path d="M1375.7 656L1378.5 661H1372.9z"/>
<path d="M1378.5 655.9L1381.3 660.9H1375.7z"/>
<path d="M1381.2 655.8L1384 660.9H1378.4z"/>
<path d="M1384 655.8L1386.8 660.8H1381.2z"/>
<path d="M1386.8 655.7L1389.6 660.7H1384z"/>
<path d="M1389.6 655.6L1392.4 660.6H1386.8z"/>
<path d="M1392.4 655.5L1395.2 660.6H1389.6z"/>
<path d="M1395.2 655.5L1398 660.5H1392.4z"/>
<path d="M1398 655.4L1400.8 660.4H1395.2z"/>
<path d="M1400.8 655.3L1403.6 660.4H1398z"/>
<path d="M1403.6 655.2L1406.4 660.3H1400.8z"/>
<path d="M1406.4 655.2L1409.2 660.2H1403.6z"/>
<path d="M1409.1 655.1L1411.9 660.1H1406.3z"/>
<path d="M1411.9 655L1414.7 660.1H1409.1z"/>
<path d="M1414.7 654.9L1417.5 660H1411.9z"/>
<path d="M1417.5 654.9L1420.3 659.9H1414.7z"/>
<path d="M1420.3 654.8L1423.1 659.8H1417.5z"/>
<path d="M1423.1 654.7L1425.9 659.8H1420.3z"/>
<path d="M1425.9 654.6L1428.7 659.7H1423.1z"/>
<path d="M1428.7 654.6L1431.5 659.6H1425.9z"/>
<path d="M1431.5 654.5L1434.3 659.5H1428.7z"/>
<path d="M1434.3 654.4L1437.1 659.5H1431.5z"/>
<path d="M1437 654.3L1439.8 659.4H1434.2z"/>
<path d="M1439.8 654.3L1442.6 659.3H1437z"/>
<path d="M1442.6 654.2L1445.4 659.2H1439.8z"/>
<path d="M1445.4 654.1L1448.2 659.2H1442.6z"/>
<path d="M1448.2 654.1L1451 659.1H1445.4z"/>
<path d="M1451 654L1453.8 659H1448.2z"/>
<path d="M1453.8 653.9L1456.6 659H1451z"/>
<path d="M1456.6 653.9L1459.4 658.9H1453.8z"/>
<path d="M1459.4 653.8L1462.2 658.8H1456.6z"/>
<path d="M1462.2 653.7L1465 658.8H1459.4z"/>
<path d="M1464.9 653.6L1467.7 658.7H1462.1z"/>
<path d="M1467.7 653.6L1470.5 658.6H1464.9z"/>
<path d="M1470.5 653.5L1473.3 658.6H1467.7z"/>
<path d="M1473.3 653.5L1476.1 658.5H1470.5z"/>
<path d="M1476.1 653.4L1478.9 658.5H1473.3z"/>
</g>
<polyline points="1004.6,934.6 1007.4,934.6 1010.2,934.5 1013,934.4 1015.8,934.2 1018.5,934.1 1021.3,934 1024.1,933.9 1026.9,933.8 1029.7,933.7 1032.5,933.7 1035.3,933.6 1038.1,933.5 1040.9,933.4 1043.7,933.3 1046.4,933.3 1049.2,933.1 1052,933 1054.8,932.9 1057.6,932.7 1060.4,932.5 1063.2,932.2 1066,931.8 1068.8,931.4 1071.6,930.8 1074.3,930.1 1077.1,929.2 1079.9,928.1 1082.7,926.9 1085.5,925.5 1088.3,924 1091.1,922.3 1093.9,920.4 1096.7,918.4 1099.5,916.2 1102.2,913.9 1105,911.5 1107.8,909 1110.6,906.3 1113.4,903.4 1116.2,900.3 1119,896.9 1121.8,893.3 1124.6,889.3 1127.4,885.1 1130.1,880.8 1132.9,876.4 1135.7,871.9 1138.5,867.3 1141.3,862.5 1144.1,857.5 1146.9,852.2 1149.7,846.4 1152.5,840 1155.3,833.2 1158,826.5 1160.8,820 1163.6,813.5 1166.4,807 1169.2,800.5 1172,793.9 1174.8,787.3 1177.6,780.7 1180.4,774.1 1183.2,767.5 1185.9,760.8 1188.7,754.3 1191.5,748.1 1194.3,742.2 1197.1,736.5 1199.9,731.3 1202.7,726.5 1205.5,721.9 1208.3,717.5 1211.1,713.3 1213.8,709.6 1216.6,706.4 1219.4,703.5 1222.2,700.9 1225,698.5 1227.8,696.1 1230.6,693.9 1233.4,691.9 1236.2,690 1239,688.2 1241.7,686.5 1244.5,684.9 1247.3,683.4 1250.1,682 1252.9,680.8 1255.7,679.8 1258.5,678.9 1261.3,678.1 1264.1,677.4 1266.9,676.7 1269.6,676 1272.4,675.4 1275.2,674.7 1278,673.9 1280.8,673.2 1283.6,672.5 1286.4,671.8 1289.2,671.2 1292,670.5 1294.8,670 1297.5,669.5 1300.3,669 1303.1,668.5 1305.9,668.1 1308.7,667.7 1311.5,667.3 1314.3,667 1317.1,666.6 1319.9,666.3 1322.7,666.1 1325.4,665.8 1328.2,665.6 1331,665.3 1333.8,665.1 1336.6,664.8 1339.4,664.6 1342.2,664.3 1345,664 1347.8,663.7 1350.6,663.5 1353.3,663.2 1356.1,662.9 1358.9,662.6 1361.7,662.4 1364.5,662.1 1367.3,661.8 1370.1,661.6 1372.9,661.3 1375.7,661.1 1378.5,660.8 1381.2,660.6 1384,660.4 1386.8,660.1 1389.6,659.9 1392.4,659.7 1395.2,659.5 1398,659.3 1400.8,659.1 1403.6,658.9 1406.4,658.7 1409.1,658.5 1411.9,658.4 1414.7,658.2 1417.5,658 1420.3,657.9 1423.1,657.7 1425.9,657.6 1428.7,657.5 1431.5,657.3 1434.3,657.2 1437,657.1 1439.8,657 1442.6,656.9 1445.4,656.8 1448.2,656.7 1451,656.6 1453.8,656.5 1456.6,656.5 1459.4,656.4 1462.2,656.3 1464.9,656.2 1467.7,656.2 1470.5,656.1 1473.3,656.1 1476.1,656.1" fill="none" stroke="#0a0af0" stroke-width="3" stroke-linejoin="round"/>
<g fill="#0a0af0">
<path d="M1004.6 937.7L1007.7 932.2H1001.5z"/>
<path d="M1007.4 937.7L1010.5 932.1H1004.3z"/>
<path d="M1010.2 937.6L1013.3 932H1007.1z"/>
<path d="M1013 937.5L1016.1 931.9H1009.9z"/>
<path d="M1015.8 937.3L1018.9 931.8H1012.7z"/>
<path d="M1018.5 937.2L1021.6 931.6H1015.4z"/>
<path d="M1021.3 937.1L1024.4 931.5H1018.2z"/>
<path d="M1024.1 937L1027.2 931.4H1021z"/>
<path d="M1026.9 936.9L1030 931.3H1023.8z"/>
<path d="M1029.7 936.8L1032.8 931.2H1026.6z"/>
<path d="M1032.5 936.8L1035.6 931.2H1029.4z"/>
<path d="M1035.3 936.7L1038.4 931.1H1032.2z"/>
<path d="M1038.1 936.6L1041.2 931H1035z"/>
<path d="M1040.9 936.5L1044 931H1037.8z"/>
<path d="M1043.7 936.4L1046.8 930.9H1040.6z"/>
<path d="M1046.4 936.4L1049.5 930.8H1043.3z"/>
<path d="M1049.2 936.2L1052.3 930.7H1046.1z"/>
<path d="M1052 936.1L1055.1 930.5H1048.9z"/>
<path d="M1054.8 936L1057.9 930.4H1051.7z"/>
<path d="M1057.6 935.8L1060.7 930.2H1054.5z"/>
<path d="M1060.4 935.6L1063.5 930H1057.3z"/>
<path d="M1063.2 935.3L1066.3 929.7H1060.1z"/>
<path d="M1066 934.9L1069.1 929.4H1062.9z"/>
<path d="M1068.8 934.5L1071.9 928.9H1065.7z"/>
<path d="M1071.6 933.9L1074.7 928.3H1068.5z"/>
<path d="M1074.3 933.2L1077.4 927.6H1071.2z"/>
<path d="M1077.1 932.3L1080.2 926.7H1074z"/>
<path d="M1079.9 931.2L1083 925.7H1076.8z"/>
<path d="M1082.7 930L1085.8 924.4H1079.6z"/>
<path d="M1085.5 928.6L1088.6 923H1082.4z"/>
<path d="M1088.3 927.1L1091.4 921.5H1085.2z"/>
<path d="M1091.1 925.4L1094.2 919.8H1088z"/>
<path d="M1093.9 923.5L1097 918H1090.8z"/>
<path d="M1096.7 921.5L1099.8 915.9H1093.6z"/>
<path d="M1099.5 919.3L1102.6 913.7H1096.4z"/>
<path d="M1102.2 917L1105.3 911.4H1099.1z"/>
<path d="M1105 914.6L1108.1 909H1101.9z"/>
<path d="M1107.8 912.1L1110.9 906.5H1104.7z"/>
<path d="M1110.6 909.4L1113.7 903.8H1107.5z"/>
<path d="M1113.4 906.5L1116.5 900.9H1110.3z"/>
<path d="M1116.2 903.4L1119.3 897.8H1113.1z"/>
<path d="M1119 900L1122.1 894.5H1115.9z"/>
<path d="M1121.8 896.4L1124.9 890.8H1118.7z"/>
<path d="M1124.6 892.4L1127.7 886.8H1121.5z"/>
<path d="M1127.4 888.2L1130.5 882.6H1124.3z"/>
<path d="M1130.1 883.9L1133.2 878.3H1127z"/>
<path d="M1132.9 879.5L1136 873.9H1129.8z"/>
<path d="M1135.7 875L1138.8 869.5H1132.6z"/>
<path d="M1138.5 870.4L1141.6 864.8H1135.4z"/>
<path d="M1141.3 865.6L1144.4 860H1138.2z"/>
<path d="M1144.1 860.6L1147.2 855H1141z"/>
<path d="M1146.9 855.3L1150 849.7H1143.8z"/>
<path d="M1149.7 849.5L1152.8 843.9H1146.6z"/>
<path d="M1152.5 843.1L1155.6 837.5H1149.4z"/>
<path d="M1155.3 836.3L1158.4 830.7H1152.2z"/>
<path d="M1158 829.6L1161.1 824H1154.9z"/>
<path d="M1160.8 823.1L1163.9 817.5H1157.7z"/>
<path d="M1163.6 816.6L1166.7 811H1160.5z"/>
<path d="M1166.4 810.1L1169.5 804.5H1163.3z"/>
<path d="M1169.2 803.6L1172.3 798H1166.1z"/>
<path d="M1172 797L1175.1 791.4H1168.9z"/>
<path d="M1174.8 790.4L1177.9 784.8H1171.7z"/>
<path d="M1177.6 783.8L1180.7 778.2H1174.5z"/>
<path d="M1180.4 777.2L1183.5 771.7H1177.3z"/>
<path d="M1183.2 770.6L1186.3 765H1180.1z"/>
<path d="M1185.9 763.9L1189 758.3H1182.8z"/>
<path d="M1188.7 757.4L1191.8 751.8H1185.6z"/>
<path d="M1191.5 751.2L1194.6 745.7H1188.4z"/>
<path d="M1194.3 745.3L1197.4 739.7H1191.2z"/>
<path d="M1197.1 739.6L1200.2 734.1H1194z"/>
<path d="M1199.9 734.4L1203 728.9H1196.8z"/>
<path d="M1202.7 729.6L1205.8 724H1199.6z"/>
<path d="M1205.5 725L1208.6 719.4H1202.4z"/>
<path d="M1208.3 720.6L1211.4 715H1205.2z"/>
<path d="M1211.1 716.4L1214.2 710.8H1208z"/>
<path d="M1213.8 712.7L1216.9 707.1H1210.7z"/>
<path d="M1216.6 709.5L1219.7 703.9H1213.5z"/>
<path d="M1219.4 706.6L1222.5 701.1H1216.3z"/>
<path d="M1222.2 704L1225.3 698.4H1219.1z"/>
<path d="M1225 701.6L1228.1 696H1221.9z"/>
<path d="M1227.8 699.2L1230.9 693.6H1224.7z"/>
<path d="M1230.6 697L1233.7 691.4H1227.5z"/>
<path d="M1233.4 695L1236.5 689.4H1230.3z"/>
<path d="M1236.2 693.1L1239.3 687.5H1233.1z"/>
<path d="M1239 691.3L1242.1 685.7H1235.9z"/>
<path d="M1241.7 689.6L1244.8 684H1238.6z"/>
<path d="M1244.5 688L1247.6 682.4H1241.4z"/>
<path d="M1247.3 686.5L1250.4 680.9H1244.2z"/>
<path d="M1250.1 685.1L1253.2 679.5H1247z"/>
<path d="M1252.9 683.9L1256 678.3H1249.8z"/>
<path d="M1255.7 682.9L1258.8 677.3H1252.6z"/>
<path d="M1258.5 682L1261.6 676.4H1255.4z"/>
<path d="M1261.3 681.2L1264.4 675.6H1258.2z"/>
<path d="M1264.1 680.5L1267.2 674.9H1261z"/>
<path d="M1266.9 679.8L1270 674.2H1263.8z"/>
<path d="M1269.6 679.1L1272.7 673.5H1266.5z"/>
<path d="M1272.4 678.5L1275.5 672.9H1269.3z"/>
<path d="M1275.2 677.8L1278.3 672.2H1272.1z"/>
<path d="M1278 677L1281.1 671.5H1274.9z"/>
<path d="M1280.8 676.3L1283.9 670.7H1277.7z"/>
<path d="M1283.6 675.6L1286.7 670H1280.5z"/>
<path d="M1286.4 674.9L1289.5 669.3H1283.3z"/>
<path d="M1289.2 674.3L1292.3 668.7H1286.1z"/>
<path d="M1292 673.6L1295.1 668.1H1288.9z"/>
<path d="M1294.8 673.1L1297.9 667.5H1291.7z"/>
<path d="M1297.5 672.6L1300.6 667H1294.4z"/>
<path d="M1300.3 672.1L1303.4 666.5H1297.2z"/>
<path d="M1303.1 671.6L1306.2 666H1300z"/>
<path d="M1305.9 671.2L1309 665.6H1302.8z"/>
<path d="M1308.7 670.8L1311.8 665.2H1305.6z"/>
<path d="M1311.5 670.4L1314.6 664.8H1308.4z"/>
<path d="M1314.3 670.1L1317.4 664.5H1311.2z"/>
<path d="M1317.1 669.7L1320.2 664.2H1314z"/>
<path d="M1319.9 669.4L1323 663.9H1316.8z"/>
<path d="M1322.7 669.2L1325.8 663.6H1319.6z"/>
<path d="M1325.4 668.9L1328.5 663.3H1322.3z"/>
<path d="M1328.2 668.7L1331.3 663.1H1325.1z"/>
<path d="M1331 668.4L1334.1 662.9H1327.9z"/>
<path d="M1333.8 668.2L1336.9 662.6H1330.7z"/>
<path d="M1336.6 667.9L1339.7 662.4H1333.5z"/>
<path d="M1339.4 667.7L1342.5 662.1H1336.3z"/>
<path d="M1342.2 667.4L1345.3 661.8H1339.1z"/>
<path d="M1345 667.1L1348.1 661.5H1341.9z"/>
<path d="M1347.8 666.8L1350.9 661.3H1344.7z"/>
<path d="M1350.6 666.6L1353.7 661H1347.5z"/>
<path d="M1353.3 666.3L1356.4 660.7H1350.2z"/>
<path d="M1356.1 666L1359.2 660.4H1353z"/>
<path d="M1358.9 665.7L1362 660.2H1355.8z"/>
<path d="M1361.7 665.5L1364.8 659.9H1358.6z"/>
<path d="M1364.5 665.2L1367.6 659.6H1361.4z"/>
<path d="M1367.3 664.9L1370.4 659.4H1364.2z"/>
<path d="M1370.1 664.7L1373.2 659.1H1367z"/>
<path d="M1372.9 664.4L1376 658.9H1369.8z"/>
<path d="M1375.7 664.2L1378.8 658.6H1372.6z"/>
<path d="M1378.5 663.9L1381.6 658.4H1375.4z"/>
<path d="M1381.2 663.7L1384.3 658.1H1378.1z"/>
<path d="M1384 663.5L1387.1 657.9H1380.9z"/>
<path d="M1386.8 663.2L1389.9 657.6H1383.7z"/>
<path d="M1389.6 663L1392.7 657.4H1386.5z"/>
<path d="M1392.4 662.8L1395.5 657.2H1389.3z"/>
<path d="M1395.2 662.6L1398.3 657H1392.1z"/>
<path d="M1398 662.4L1401.1 656.8H1394.9z"/>
<path d="M1400.8 662.2L1403.9 656.6H1397.7z"/>
<path d="M1403.6 662L1406.7 656.4H1400.5z"/>
<path d="M1406.4 661.8L1409.5 656.2H1403.3z"/>
<path d="M1409.1 661.6L1412.2 656H1406z"/>
<path d="M1411.9 661.5L1415 655.9H1408.8z"/>
<path d="M1414.7 661.3L1417.8 655.7H1411.6z"/>
<path d="M1417.5 661.1L1420.6 655.6H1414.4z"/>
<path d="M1420.3 661L1423.4 655.4H1417.2z"/>
<path d="M1423.1 660.8L1426.2 655.3H1420z"/>
<path d="M1425.9 660.7L1429 655.1H1422.8z"/>
<path d="M1428.7 660.6L1431.8 655H1425.6z"/>
<path d="M1431.5 660.4L1434.6 654.9H1428.4z"/>
<path d="M1434.3 660.3L1437.4 654.8H1431.2z"/>
<path d="M1437 660.2L1440.1 654.6H1433.9z"/>
<path d="M1439.8 660.1L1442.9 654.5H1436.7z"/>
<path d="M1442.6 660L1445.7 654.4H1439.5z"/>
<path d="M1445.4 659.9L1448.5 654.3H1442.3z"/>
<path d="M1448.2 659.8L1451.3 654.2H1445.1z"/>
<path d="M1451 659.7L1454.1 654.2H1447.9z"/>
<path d="M1453.8 659.6L1456.9 654.1H1450.7z"/>
<path d="M1456.6 659.6L1459.7 654H1453.5z"/>
<path d="M1459.4 659.5L1462.5 653.9H1456.3z"/>
<path d="M1462.2 659.4L1465.3 653.8H1459.1z"/>
<path d="M1464.9 659.3L1468 653.8H1461.8z"/>
<path d="M1467.7 659.3L1470.8 653.7H1464.6z"/>
<path d="M1470.5 659.2L1473.6 653.6H1467.4z"/>
<path d="M1473.3 659.2L1476.4 653.6H1470.2z"/>
<path d="M1476.1 659.2L1479.2 653.6H1473z"/>
</g>
<polyline points="1002.1,934 1004.9,934 1007.7,934 1010.5,934 1013.3,934.1 1016,934.2 1018.8,934.3 1021.6,934.3 1024.4,934.4 1027.2,934.5 1030,934.4 1032.8,934.3 1035.6,934.2 1038.4,934.2 1041.2,934.2 1043.9,934.2 1046.7,934.2 1049.5,934.2 1052.3,934.3 1055.1,934.3 1057.9,934.4 1060.7,934.3 1063.5,934.4 1066.3,934.5 1069.1,934.6 1071.8,934.6 1074.6,934.6 1077.4,934.6 1080.2,934.6 1083,934.6 1085.8,934.6 1088.6,934.7 1091.4,934.8 1094.2,934.8 1097,934.8 1099.7,934.8 1102.5,934.8 1105.3,934.8 1108.1,934.7 1110.9,934.8 1113.7,934.8 1116.5,934.8 1119.3,934.9 1122.1,934.9 1124.9,934.9 1127.6,934.9 1130.4,934.8 1133.2,934.8 1136,934.8 1138.8,934.8 1141.6,934.8 1144.4,934.9 1147.2,934.8 1150,934.8 1152.8,934.9 1155.5,934.9 1158.3,934.9 1161.1,934.9 1163.9,934.8 1166.7,935 1169.5,935.2 1172.3,935.2 1175.1,935.2 1177.9,935.1 1180.7,935.1 1183.4,935.1 1186.2,935.1 1189,935 1191.8,935.1 1194.6,935.1 1197.4,935.2 1200.2,935.3 1203,935.4 1205.8,935.5 1208.6,935.5 1211.3,935.5 1214.1,935.5 1216.9,935.4 1219.7,935.3 1222.5,935.2 1225.3,935.1 1228.1,935.1 1230.9,935 1233.7,934.9 1236.5,935.2 1239.2,935.3 1242,935.3 1244.8,935.4 1247.6,935.4 1250.4,935.5 1253.2,935.5 1256,935.5 1258.8,935.4 1261.6,935.5 1264.4,935.4 1267.1,935.4 1269.9,935.4 1272.7,935.3 1275.5,935.4 1278.3,935.5 1281.1,935.5 1283.9,935.5 1286.7,935.6 1289.5,935.5 1292.3,935.5 1295,935.4 1297.8,935.4 1300.6,935.4 1303.4,935.4 1306.2,935.4 1309,935.6 1311.8,935.7 1314.6,935.7 1317.4,935.7 1320.2,935.7 1322.9,935.8 1325.7,935.9 1328.5,935.8 1331.3,935.7 1334.1,935.6 1336.9,935.6 1339.7,935.5 1342.5,935.5 1345.3,935.3 1348.1,935.5 1350.8,935.6 1353.6,935.6 1356.4,935.6 1359.2,935.7 1362,935.7 1364.8,935.7 1367.6,935.6 1370.4,935.6 1373.2,935.6 1376,935.7 1378.7,935.8 1381.5,935.8 1384.3,935.8 1387.1,935.9 1389.9,935.9 1392.7,935.9 1395.5,935.8 1398.3,935.8 1401.1,935.7 1403.9,935.6 1406.6,935.6 1409.4,935.7 1412.2,935.8 1415,935.9 1417.8,936 1420.6,936 1423.4,935.9 1426.2,936 1429,936 1431.8,936 1434.5,936 1437.3,936 1440.1,936 1442.9,936.1 1445.7,936.2 1448.5,936.2 1451.3,936.1 1454.1,936 1456.9,936 1459.7,936.1 1462.4,936 1465.2,936 1468,935.9 1470.8,935.9 1473.6,935.8 1476.4,935.7" fill="none" stroke="#9a9a9f" stroke-width="5.5" stroke-linejoin="round"/>
<g fill="#9a9a9f">
<rect x="999" y="930.9" width="6.2" height="6.2"/>
<rect x="1001.8" y="930.9" width="6.2" height="6.2"/>
<rect x="1004.6" y="930.9" width="6.2" height="6.2"/>
<rect x="1007.4" y="930.9" width="6.2" height="6.2"/>
<rect x="1010.2" y="931" width="6.2" height="6.2"/>
<rect x="1012.9" y="931.1" width="6.2" height="6.2"/>
<rect x="1015.7" y="931.2" width="6.2" height="6.2"/>
<rect x="1018.5" y="931.2" width="6.2" height="6.2"/>
<rect x="1021.3" y="931.3" width="6.2" height="6.2"/>
<rect x="1024.1" y="931.4" width="6.2" height="6.2"/>
<rect x="1026.9" y="931.3" width="6.2" height="6.2"/>
<rect x="1029.7" y="931.2" width="6.2" height="6.2"/>
<rect x="1032.5" y="931.1" width="6.2" height="6.2"/>
<rect x="1035.3" y="931.1" width="6.2" height="6.2"/>
<rect x="1038.1" y="931.1" width="6.2" height="6.2"/>
<rect x="1040.8" y="931.1" width="6.2" height="6.2"/>
<rect x="1043.6" y="931.1" width="6.2" height="6.2"/>
<rect x="1046.4" y="931.1" width="6.2" height="6.2"/>
<rect x="1049.2" y="931.2" width="6.2" height="6.2"/>
<rect x="1052" y="931.2" width="6.2" height="6.2"/>
<rect x="1054.8" y="931.3" width="6.2" height="6.2"/>
<rect x="1057.6" y="931.2" width="6.2" height="6.2"/>
<rect x="1060.4" y="931.3" width="6.2" height="6.2"/>
<rect x="1063.2" y="931.4" width="6.2" height="6.2"/>
<rect x="1066" y="931.5" width="6.2" height="6.2"/>
<rect x="1068.7" y="931.5" width="6.2" height="6.2"/>
<rect x="1071.5" y="931.5" width="6.2" height="6.2"/>
<rect x="1074.3" y="931.5" width="6.2" height="6.2"/>
<rect x="1077.1" y="931.5" width="6.2" height="6.2"/>
<rect x="1079.9" y="931.5" width="6.2" height="6.2"/>
<rect x="1082.7" y="931.5" width="6.2" height="6.2"/>
<rect x="1085.5" y="931.6" width="6.2" height="6.2"/>
<rect x="1088.3" y="931.7" width="6.2" height="6.2"/>
<rect x="1091.1" y="931.7" width="6.2" height="6.2"/>
<rect x="1093.9" y="931.7" width="6.2" height="6.2"/>
<rect x="1096.6" y="931.7" width="6.2" height="6.2"/>
<rect x="1099.4" y="931.7" width="6.2" height="6.2"/>
<rect x="1102.2" y="931.7" width="6.2" height="6.2"/>
<rect x="1105" y="931.6" width="6.2" height="6.2"/>
<rect x="1107.8" y="931.7" width="6.2" height="6.2"/>
<rect x="1110.6" y="931.7" width="6.2" height="6.2"/>
<rect x="1113.4" y="931.7" width="6.2" height="6.2"/>
<rect x="1116.2" y="931.8" width="6.2" height="6.2"/>
<rect x="1119" y="931.8" width="6.2" height="6.2"/>
<rect x="1121.8" y="931.8" width="6.2" height="6.2"/>
<rect x="1124.5" y="931.8" width="6.2" height="6.2"/>
<rect x="1127.3" y="931.7" width="6.2" height="6.2"/>
<rect x="1130.1" y="931.7" width="6.2" height="6.2"/>
<rect x="1132.9" y="931.7" width="6.2" height="6.2"/>
<rect x="1135.7" y="931.7" width="6.2" height="6.2"/>
<rect x="1138.5" y="931.7" width="6.2" height="6.2"/>
<rect x="1141.3" y="931.8" width="6.2" height="6.2"/>
<rect x="1144.1" y="931.7" width="6.2" height="6.2"/>
<rect x="1146.9" y="931.7" width="6.2" height="6.2"/>
<rect x="1149.7" y="931.8" width="6.2" height="6.2"/>
<rect x="1152.4" y="931.8" width="6.2" height="6.2"/>
<rect x="1155.2" y="931.8" width="6.2" height="6.2"/>
<rect x="1158" y="931.8" width="6.2" height="6.2"/>
<rect x="1160.8" y="931.7" width="6.2" height="6.2"/>
<rect x="1163.6" y="931.9" width="6.2" height="6.2"/>
<rect x="1166.4" y="932.1" width="6.2" height="6.2"/>
<rect x="1169.2" y="932.1" width="6.2" height="6.2"/>
<rect x="1172" y="932.1" width="6.2" height="6.2"/>
<rect x="1174.8" y="932" width="6.2" height="6.2"/>
<rect x="1177.6" y="932" width="6.2" height="6.2"/>
<rect x="1180.3" y="932" width="6.2" height="6.2"/>
<rect x="1183.1" y="932" width="6.2" height="6.2"/>
<rect x="1185.9" y="931.9" width="6.2" height="6.2"/>
<rect x="1188.7" y="932" width="6.2" height="6.2"/>
<rect x="1191.5" y="932" width="6.2" height="6.2"/>
<rect x="1194.3" y="932.1" width="6.2" height="6.2"/>
<rect x="1197.1" y="932.2" width="6.2" height="6.2"/>
<rect x="1199.9" y="932.3" width="6.2" height="6.2"/>
<rect x="1202.7" y="932.4" width="6.2" height="6.2"/>
<rect x="1205.5" y="932.4" width="6.2" height="6.2"/>
<rect x="1208.2" y="932.4" width="6.2" height="6.2"/>
<rect x="1211" y="932.4" width="6.2" height="6.2"/>
<rect x="1213.8" y="932.3" width="6.2" height="6.2"/>
<rect x="1216.6" y="932.2" width="6.2" height="6.2"/>
<rect x="1219.4" y="932.1" width="6.2" height="6.2"/>
<rect x="1222.2" y="932" width="6.2" height="6.2"/>
<rect x="1225" y="932" width="6.2" height="6.2"/>
<rect x="1227.8" y="931.9" width="6.2" height="6.2"/>
<rect x="1230.6" y="931.8" width="6.2" height="6.2"/>
<rect x="1233.4" y="932.1" width="6.2" height="6.2"/>
<rect x="1236.1" y="932.2" width="6.2" height="6.2"/>
<rect x="1238.9" y="932.2" width="6.2" height="6.2"/>
<rect x="1241.7" y="932.3" width="6.2" height="6.2"/>
<rect x="1244.5" y="932.3" width="6.2" height="6.2"/>
<rect x="1247.3" y="932.4" width="6.2" height="6.2"/>
<rect x="1250.1" y="932.4" width="6.2" height="6.2"/>
<rect x="1252.9" y="932.4" width="6.2" height="6.2"/>
<rect x="1255.7" y="932.3" width="6.2" height="6.2"/>
<rect x="1258.5" y="932.4" width="6.2" height="6.2"/>
<rect x="1261.3" y="932.3" width="6.2" height="6.2"/>
<rect x="1264" y="932.3" width="6.2" height="6.2"/>
<rect x="1266.8" y="932.3" width="6.2" height="6.2"/>
<rect x="1269.6" y="932.2" width="6.2" height="6.2"/>
<rect x="1272.4" y="932.3" width="6.2" height="6.2"/>
<rect x="1275.2" y="932.4" width="6.2" height="6.2"/>
<rect x="1278" y="932.4" width="6.2" height="6.2"/>
<rect x="1280.8" y="932.4" width="6.2" height="6.2"/>
<rect x="1283.6" y="932.5" width="6.2" height="6.2"/>
<rect x="1286.4" y="932.4" width="6.2" height="6.2"/>
<rect x="1289.2" y="932.4" width="6.2" height="6.2"/>
<rect x="1291.9" y="932.3" width="6.2" height="6.2"/>
<rect x="1294.7" y="932.3" width="6.2" height="6.2"/>
<rect x="1297.5" y="932.3" width="6.2" height="6.2"/>
<rect x="1300.3" y="932.3" width="6.2" height="6.2"/>
<rect x="1303.1" y="932.3" width="6.2" height="6.2"/>
<rect x="1305.9" y="932.5" width="6.2" height="6.2"/>
<rect x="1308.7" y="932.6" width="6.2" height="6.2"/>
<rect x="1311.5" y="932.6" width="6.2" height="6.2"/>
<rect x="1314.3" y="932.6" width="6.2" height="6.2"/>
<rect x="1317.1" y="932.6" width="6.2" height="6.2"/>
<rect x="1319.8" y="932.7" width="6.2" height="6.2"/>
<rect x="1322.6" y="932.8" width="6.2" height="6.2"/>
<rect x="1325.4" y="932.7" width="6.2" height="6.2"/>
<rect x="1328.2" y="932.6" width="6.2" height="6.2"/>
<rect x="1331" y="932.5" width="6.2" height="6.2"/>
<rect x="1333.8" y="932.5" width="6.2" height="6.2"/>
<rect x="1336.6" y="932.4" width="6.2" height="6.2"/>
<rect x="1339.4" y="932.4" width="6.2" height="6.2"/>
<rect x="1342.2" y="932.2" width="6.2" height="6.2"/>
<rect x="1345" y="932.4" width="6.2" height="6.2"/>
<rect x="1347.7" y="932.5" width="6.2" height="6.2"/>
<rect x="1350.5" y="932.5" width="6.2" height="6.2"/>
<rect x="1353.3" y="932.5" width="6.2" height="6.2"/>
<rect x="1356.1" y="932.6" width="6.2" height="6.2"/>
<rect x="1358.9" y="932.6" width="6.2" height="6.2"/>
<rect x="1361.7" y="932.6" width="6.2" height="6.2"/>
<rect x="1364.5" y="932.5" width="6.2" height="6.2"/>
<rect x="1367.3" y="932.5" width="6.2" height="6.2"/>
<rect x="1370.1" y="932.5" width="6.2" height="6.2"/>
<rect x="1372.9" y="932.6" width="6.2" height="6.2"/>
<rect x="1375.6" y="932.7" width="6.2" height="6.2"/>
<rect x="1378.4" y="932.7" width="6.2" height="6.2"/>
<rect x="1381.2" y="932.7" width="6.2" height="6.2"/>
<rect x="1384" y="932.8" width="6.2" height="6.2"/>
<rect x="1386.8" y="932.8" width="6.2" height="6.2"/>
<rect x="1389.6" y="932.8" width="6.2" height="6.2"/>
<rect x="1392.4" y="932.7" width="6.2" height="6.2"/>
<rect x="1395.2" y="932.7" width="6.2" height="6.2"/>
<rect x="1398" y="932.6" width="6.2" height="6.2"/>
<rect x="1400.8" y="932.5" width="6.2" height="6.2"/>
<rect x="1403.5" y="932.5" width="6.2" height="6.2"/>
<rect x="1406.3" y="932.6" width="6.2" height="6.2"/>
<rect x="1409.1" y="932.7" width="6.2" height="6.2"/>
<rect x="1411.9" y="932.8" width="6.2" height="6.2"/>
<rect x="1414.7" y="932.9" width="6.2" height="6.2"/>
<rect x="1417.5" y="932.9" width="6.2" height="6.2"/>
<rect x="1420.3" y="932.8" width="6.2" height="6.2"/>
<rect x="1423.1" y="932.9" width="6.2" height="6.2"/>
<rect x="1425.9" y="932.9" width="6.2" height="6.2"/>
<rect x="1428.7" y="932.9" width="6.2" height="6.2"/>
<rect x="1431.4" y="932.9" width="6.2" height="6.2"/>
<rect x="1434.2" y="932.9" width="6.2" height="6.2"/>
<rect x="1437" y="932.9" width="6.2" height="6.2"/>
<rect x="1439.8" y="933" width="6.2" height="6.2"/>
<rect x="1442.6" y="933.1" width="6.2" height="6.2"/>
<rect x="1445.4" y="933.1" width="6.2" height="6.2"/>
<rect x="1448.2" y="933" width="6.2" height="6.2"/>
<rect x="1451" y="932.9" width="6.2" height="6.2"/>
<rect x="1453.8" y="932.9" width="6.2" height="6.2"/>
<rect x="1456.6" y="933" width="6.2" height="6.2"/>
<rect x="1459.3" y="932.9" width="6.2" height="6.2"/>
<rect x="1462.1" y="932.9" width="6.2" height="6.2"/>
<rect x="1464.9" y="932.8" width="6.2" height="6.2"/>
<rect x="1467.7" y="932.8" width="6.2" height="6.2"/>
<rect x="1470.5" y="932.7" width="6.2" height="6.2"/>
<rect x="1473.3" y="932.6" width="6.2" height="6.2"/>
</g>
<polyline points="1004.6,940.9 1007.4,941 1010.2,941.1 1013,941.1 1015.8,941 1018.5,940.9 1021.3,940.7 1024.1,940.5 1026.9,940.2 1029.7,939.8 1032.5,939.4 1035.3,938.9 1038.1,938.3 1040.9,937.6 1043.7,936.7 1046.4,935.7 1049.2,934.4 1052,932.7 1054.8,930.8 1057.6,928.6 1060.4,926 1063.2,922.8 1066,918.8 1068.8,914.5 1071.6,910.2 1074.3,905.6 1077.1,900.3 1079.9,893.5 1082.7,885.5 1085.5,877.3 1088.3,869.9 1091.1,862.8 1093.9,855.4 1096.7,847.3 1099.5,837.9 1102.2,828.2 1105,818.7 1107.8,809 1110.6,799.5 1113.4,790.5 1116.2,781.7 1119,773.1 1121.8,765.1 1124.6,757.2 1127.4,749.3 1130.1,740.9 1132.9,733.2 1135.7,725.8 1138.5,719.4 1141.3,713.7 1144.1,708.4 1146.9,703.7 1149.7,699.6 1152.5,696 1155.3,692.9 1158,690.1 1160.8,687.9 1163.6,685.8 1166.4,683.9 1169.2,682 1172,680.1 1174.8,678.1 1177.6,676.1 1180.4,674.3 1183.2,672.8 1185.9,671.4 1188.7,670 1191.5,668.9 1194.3,667.8 1197.1,666.8 1199.9,666 1202.7,665.2 1205.5,664.4 1208.3,663.7 1211.1,663 1213.8,662.4 1216.6,661.8 1219.4,661.2 1222.2,660.6 1225,660.1 1227.8,659.5 1230.6,659 1233.4,658.5 1236.2,658 1239,657.5 1241.7,657.1 1244.5,656.6 1247.3,656.2 1250.1,655.9 1252.9,655.5 1255.7,655.2 1258.5,654.9 1261.3,654.6 1264.1,654.3 1266.9,654 1269.6,653.7 1272.4,653.4 1275.2,653.2 1278,652.9 1280.8,652.7 1283.6,652.5 1286.4,652.3 1289.2,652.2 1292,652.1 1294.8,652 1297.5,652 1300.3,651.9 1303.1,651.9 1305.9,651.9 1308.7,651.8 1311.5,651.8 1314.3,651.8 1317.1,651.7 1319.9,651.7 1322.7,651.7 1325.4,651.6 1328.2,651.6 1331,651.6 1333.8,651.5 1336.6,651.5 1339.4,651.5 1342.2,651.4 1345,651.4 1347.8,651.4 1350.6,651.3 1353.3,651.3 1356.1,651.3 1358.9,651.2 1361.7,651.2 1364.5,651.2 1367.3,651.2 1370.1,651.1 1372.9,651.1 1375.7,651.1 1378.5,651.1 1381.2,651.1 1384,651.1 1386.8,651.2 1389.6,651.2 1392.4,651.3 1395.2,651.4 1398,651.5 1400.8,651.6 1403.6,651.7 1406.4,651.8 1409.1,651.9 1411.9,652 1414.7,652.1 1417.5,652.2 1420.3,652.3 1423.1,652.4 1425.9,652.5 1428.7,652.5 1431.5,652.6 1434.3,652.7 1437,652.8 1439.8,652.9 1442.6,653 1445.4,653.1 1448.2,653.2 1451,653.3 1453.8,653.4 1456.6,653.5 1459.4,653.6 1462.2,653.7 1464.9,653.8 1467.7,653.9 1470.5,654 1473.3,654 1476.1,654.1" fill="none" stroke="#000" stroke-width="2" stroke-linejoin="round"/>
<g fill="#000">
<circle cx="1004.6" cy="940.9" r="3.4"/>
<circle cx="1007.4" cy="941" r="3.4"/>
<circle cx="1010.2" cy="941.1" r="3.4"/>
<circle cx="1013" cy="941.1" r="3.4"/>
<circle cx="1015.8" cy="941" r="3.4"/>
<circle cx="1018.5" cy="940.9" r="3.4"/>
<circle cx="1021.3" cy="940.7" r="3.4"/>
<circle cx="1024.1" cy="940.5" r="3.4"/>
<circle cx="1026.9" cy="940.2" r="3.4"/>
<circle cx="1029.7" cy="939.8" r="3.4"/>
<circle cx="1032.5" cy="939.4" r="3.4"/>
<circle cx="1035.3" cy="938.9" r="3.4"/>
<circle cx="1038.1" cy="938.3" r="3.4"/>
<circle cx="1040.9" cy="937.6" r="3.4"/>
<circle cx="1043.7" cy="936.7" r="3.4"/>
<circle cx="1046.4" cy="935.7" r="3.4"/>
<circle cx="1049.2" cy="934.4" r="3.4"/>
<circle cx="1052" cy="932.7" r="3.4"/>
<circle cx="1054.8" cy="930.8" r="3.4"/>
<circle cx="1057.6" cy="928.6" r="3.4"/>
<circle cx="1060.4" cy="926" r="3.4"/>
<circle cx="1063.2" cy="922.8" r="3.4"/>
<circle cx="1066" cy="918.8" r="3.4"/>
<circle cx="1068.8" cy="914.5" r="3.4"/>
<circle cx="1071.6" cy="910.2" r="3.4"/>
<circle cx="1074.3" cy="905.6" r="3.4"/>
<circle cx="1077.1" cy="900.3" r="3.4"/>
<circle cx="1079.9" cy="893.5" r="3.4"/>
<circle cx="1082.7" cy="885.5" r="3.4"/>
<circle cx="1085.5" cy="877.3" r="3.4"/>
<circle cx="1088.3" cy="869.9" r="3.4"/>
<circle cx="1091.1" cy="862.8" r="3.4"/>
<circle cx="1093.9" cy="855.4" r="3.4"/>
<circle cx="1096.7" cy="847.3" r="3.4"/>
<circle cx="1099.5" cy="837.9" r="3.4"/>
<circle cx="1102.2" cy="828.2" r="3.4"/>
<circle cx="1105" cy="818.7" r="3.4"/>
<circle cx="1107.8" cy="809" r="3.4"/>
<circle cx="1110.6" cy="799.5" r="3.4"/>
<circle cx="1113.4" cy="790.5" r="3.4"/>
<circle cx="1116.2" cy="781.7" r="3.4"/>
<circle cx="1119" cy="773.1" r="3.4"/>
<circle cx="1121.8" cy="765.1" r="3.4"/>
<circle cx="1124.6" cy="757.2" r="3.4"/>
<circle cx="1127.4" cy="749.3" r="3.4"/>
<circle cx="1130.1" cy="740.9" r="3.4"/>
<circle cx="1132.9" cy="733.2" r="3.4"/>
<circle cx="1135.7" cy="725.8" r="3.4"/>
<circle cx="1138.5" cy="719.4" r="3.4"/>
<circle cx="1141.3" cy="713.7" r="3.4"/>
<circle cx="1144.1" cy="708.4" r="3.4"/>
<circle cx="1146.9" cy="703.7" r="3.4"/>
<circle cx="1149.7" cy="699.6" r="3.4"/>
<circle cx="1152.5" cy="696" r="3.4"/>
<circle cx="1155.3" cy="692.9" r="3.4"/>
<circle cx="1158" cy="690.1" r="3.4"/>
<circle cx="1160.8" cy="687.9" r="3.4"/>
<circle cx="1163.6" cy="685.8" r="3.4"/>
<circle cx="1166.4" cy="683.9" r="3.4"/>
<circle cx="1169.2" cy="682" r="3.4"/>
<circle cx="1172" cy="680.1" r="3.4"/>
<circle cx="1174.8" cy="678.1" r="3.4"/>
<circle cx="1177.6" cy="676.1" r="3.4"/>
<circle cx="1180.4" cy="674.3" r="3.4"/>
<circle cx="1183.2" cy="672.8" r="3.4"/>
<circle cx="1185.9" cy="671.4" r="3.4"/>
<circle cx="1188.7" cy="670" r="3.4"/>
<circle cx="1191.5" cy="668.9" r="3.4"/>
<circle cx="1194.3" cy="667.8" r="3.4"/>
<circle cx="1197.1" cy="666.8" r="3.4"/>
<circle cx="1199.9" cy="666" r="3.4"/>
<circle cx="1202.7" cy="665.2" r="3.4"/>
<circle cx="1205.5" cy="664.4" r="3.4"/>
<circle cx="1208.3" cy="663.7" r="3.4"/>
<circle cx="1211.1" cy="663" r="3.4"/>
<circle cx="1213.8" cy="662.4" r="3.4"/>
<circle cx="1216.6" cy="661.8" r="3.4"/>
<circle cx="1219.4" cy="661.2" r="3.4"/>
<circle cx="1222.2" cy="660.6" r="3.4"/>
<circle cx="1225" cy="660.1" r="3.4"/>
<circle cx="1227.8" cy="659.5" r="3.4"/>
<circle cx="1230.6" cy="659" r="3.4"/>
<circle cx="1233.4" cy="658.5" r="3.4"/>
<circle cx="1236.2" cy="658" r="3.4"/>
<circle cx="1239" cy="657.5" r="3.4"/>
<circle cx="1241.7" cy="657.1" r="3.4"/>
<circle cx="1244.5" cy="656.6" r="3.4"/>
<circle cx="1247.3" cy="656.2" r="3.4"/>
<circle cx="1250.1" cy="655.9" r="3.4"/>
<circle cx="1252.9" cy="655.5" r="3.4"/>
<circle cx="1255.7" cy="655.2" r="3.4"/>
<circle cx="1258.5" cy="654.9" r="3.4"/>
<circle cx="1261.3" cy="654.6" r="3.4"/>
<circle cx="1264.1" cy="654.3" r="3.4"/>
<circle cx="1266.9" cy="654" r="3.4"/>
<circle cx="1269.6" cy="653.7" r="3.4"/>
<circle cx="1272.4" cy="653.4" r="3.4"/>
<circle cx="1275.2" cy="653.2" r="3.4"/>
<circle cx="1278" cy="652.9" r="3.4"/>
<circle cx="1280.8" cy="652.7" r="3.4"/>
<circle cx="1283.6" cy="652.5" r="3.4"/>
<circle cx="1286.4" cy="652.3" r="3.4"/>
<circle cx="1289.2" cy="652.2" r="3.4"/>
<circle cx="1292" cy="652.1" r="3.4"/>
<circle cx="1294.8" cy="652" r="3.4"/>
<circle cx="1297.5" cy="652" r="3.4"/>
<circle cx="1300.3" cy="651.9" r="3.4"/>
<circle cx="1303.1" cy="651.9" r="3.4"/>
<circle cx="1305.9" cy="651.9" r="3.4"/>
<circle cx="1308.7" cy="651.8" r="3.4"/>
<circle cx="1311.5" cy="651.8" r="3.4"/>
<circle cx="1314.3" cy="651.8" r="3.4"/>
<circle cx="1317.1" cy="651.7" r="3.4"/>
<circle cx="1319.9" cy="651.7" r="3.4"/>
<circle cx="1322.7" cy="651.7" r="3.4"/>
<circle cx="1325.4" cy="651.6" r="3.4"/>
<circle cx="1328.2" cy="651.6" r="3.4"/>
<circle cx="1331" cy="651.6" r="3.4"/>
<circle cx="1333.8" cy="651.5" r="3.4"/>
<circle cx="1336.6" cy="651.5" r="3.4"/>
<circle cx="1339.4" cy="651.5" r="3.4"/>
<circle cx="1342.2" cy="651.4" r="3.4"/>
<circle cx="1345" cy="651.4" r="3.4"/>
<circle cx="1347.8" cy="651.4" r="3.4"/>
<circle cx="1350.6" cy="651.3" r="3.4"/>
<circle cx="1353.3" cy="651.3" r="3.4"/>
<circle cx="1356.1" cy="651.3" r="3.4"/>
<circle cx="1358.9" cy="651.2" r="3.4"/>
<circle cx="1361.7" cy="651.2" r="3.4"/>
<circle cx="1364.5" cy="651.2" r="3.4"/>
<circle cx="1367.3" cy="651.2" r="3.4"/>
<circle cx="1370.1" cy="651.1" r="3.4"/>
<circle cx="1372.9" cy="651.1" r="3.4"/>
<circle cx="1375.7" cy="651.1" r="3.4"/>
<circle cx="1378.5" cy="651.1" r="3.4"/>
<circle cx="1381.2" cy="651.1" r="3.4"/>
<circle cx="1384" cy="651.1" r="3.4"/>
<circle cx="1386.8" cy="651.2" r="3.4"/>
<circle cx="1389.6" cy="651.2" r="3.4"/>
<circle cx="1392.4" cy="651.3" r="3.4"/>
<circle cx="1395.2" cy="651.4" r="3.4"/>
<circle cx="1398" cy="651.5" r="3.4"/>
<circle cx="1400.8" cy="651.6" r="3.4"/>
<circle cx="1403.6" cy="651.7" r="3.4"/>
<circle cx="1406.4" cy="651.8" r="3.4"/>
<circle cx="1409.1" cy="651.9" r="3.4"/>
<circle cx="1411.9" cy="652" r="3.4"/>
<circle cx="1414.7" cy="652.1" r="3.4"/>
<circle cx="1417.5" cy="652.2" r="3.4"/>
<circle cx="1420.3" cy="652.3" r="3.4"/>
<circle cx="1423.1" cy="652.4" r="3.4"/>
<circle cx="1425.9" cy="652.5" r="3.4"/>
<circle cx="1428.7" cy="652.5" r="3.4"/>
<circle cx="1431.5" cy="652.6" r="3.4"/>
<circle cx="1434.3" cy="652.7" r="3.4"/>
<circle cx="1437" cy="652.8" r="3.4"/>
<circle cx="1439.8" cy="652.9" r="3.4"/>
<circle cx="1442.6" cy="653" r="3.4"/>
<circle cx="1445.4" cy="653.1" r="3.4"/>
<circle cx="1448.2" cy="653.2" r="3.4"/>
<circle cx="1451" cy="653.3" r="3.4"/>
<circle cx="1453.8" cy="653.4" r="3.4"/>
<circle cx="1456.6" cy="653.5" r="3.4"/>
<circle cx="1459.4" cy="653.6" r="3.4"/>
<circle cx="1462.2" cy="653.7" r="3.4"/>
<circle cx="1464.9" cy="653.8" r="3.4"/>
<circle cx="1467.7" cy="653.9" r="3.4"/>
<circle cx="1470.5" cy="654" r="3.4"/>
<circle cx="1473.3" cy="654" r="3.4"/>
<circle cx="1476.1" cy="654.1" r="3.4"/>
</g>
</g>
<line x1="587.3" y1="622.6" x2="623.3" y2="622.6" stroke="#000" stroke-width="1.7"/>
<g fill="#000"><circle cx="605.3" cy="622.6" r="2.9"/></g>
<text x="643.2" y="631.9" class="lg" style="font-size:28.1px">SH1000 - B - B</text>
<line x1="587.3" y1="668.2" x2="623.3" y2="668.2" stroke="#d2d2d2" stroke-width="2.3"/>
<g fill="#d2d2d2"><rect x="602.3" y="665.2" width="6" height="6"/></g>
<text x="643.2" y="677.5" class="lg" style="font-size:28.1px">SH1000 - B - 128</text>
<line x1="587.3" y1="714.3" x2="623.3" y2="714.3" stroke="#f47a7a" stroke-width="2.1"/>
<g fill="#f47a7a"><path d="M605.3 711.2L608.4 716.8H602.2z"/></g>
<text x="643.2" y="723.6" class="lg" style="font-size:28.1px">SH1000 - 128 - B</text>
<line x1="587.3" y1="759.7" x2="623.3" y2="759.7" stroke="#f20a0a" stroke-width="2.3"/>
<g fill="#f20a0a"><path d="M605.3 762.9L608.5 757.1H602.1z"/></g>
<text x="643.2" y="769" class="lg" style="font-size:28.1px">SH1000 - 128 - 128</text>
<line x1="1512" y1="633.5" x2="1548.5" y2="633.5" stroke="#000" stroke-width="1.7"/>
<g fill="#000"><circle cx="1530.2" cy="633.5" r="2.9"/></g>
<text x="1568" y="642.8" class="lg" style="font-size:28.6px">LAC - B - B</text>
<line x1="1512" y1="680.9" x2="1548.5" y2="680.9" stroke="#9a9a9f" stroke-width="2.4"/>
<g fill="#9a9a9f"><rect x="1527.2" y="677.9" width="6" height="6"/></g>
<text x="1568" y="690.2" class="lg" style="font-size:28.6px">LAC - B - 128</text>
<line x1="1512" y1="728.8" x2="1548.5" y2="728.8" stroke="#3d98f5" stroke-width="2.2"/>
<g fill="#3d98f5"><path d="M1530.2 725.7L1533.3 731.3H1527.2z"/></g>
<text x="1568" y="738.1" class="lg" style="font-size:28.6px">LAC - 128 - B</text>
<line x1="1512" y1="776" x2="1548.5" y2="776" stroke="#0a0af0" stroke-width="2.4"/>
<g fill="#0a0af0"><path d="M1530.2 779.2L1533.5 773.4H1527z"/></g>
<text x="1568" y="785.3" class="lg" style="font-size:28.6px">LAC - 128 - 128</text>
</svg>
</body></html>
